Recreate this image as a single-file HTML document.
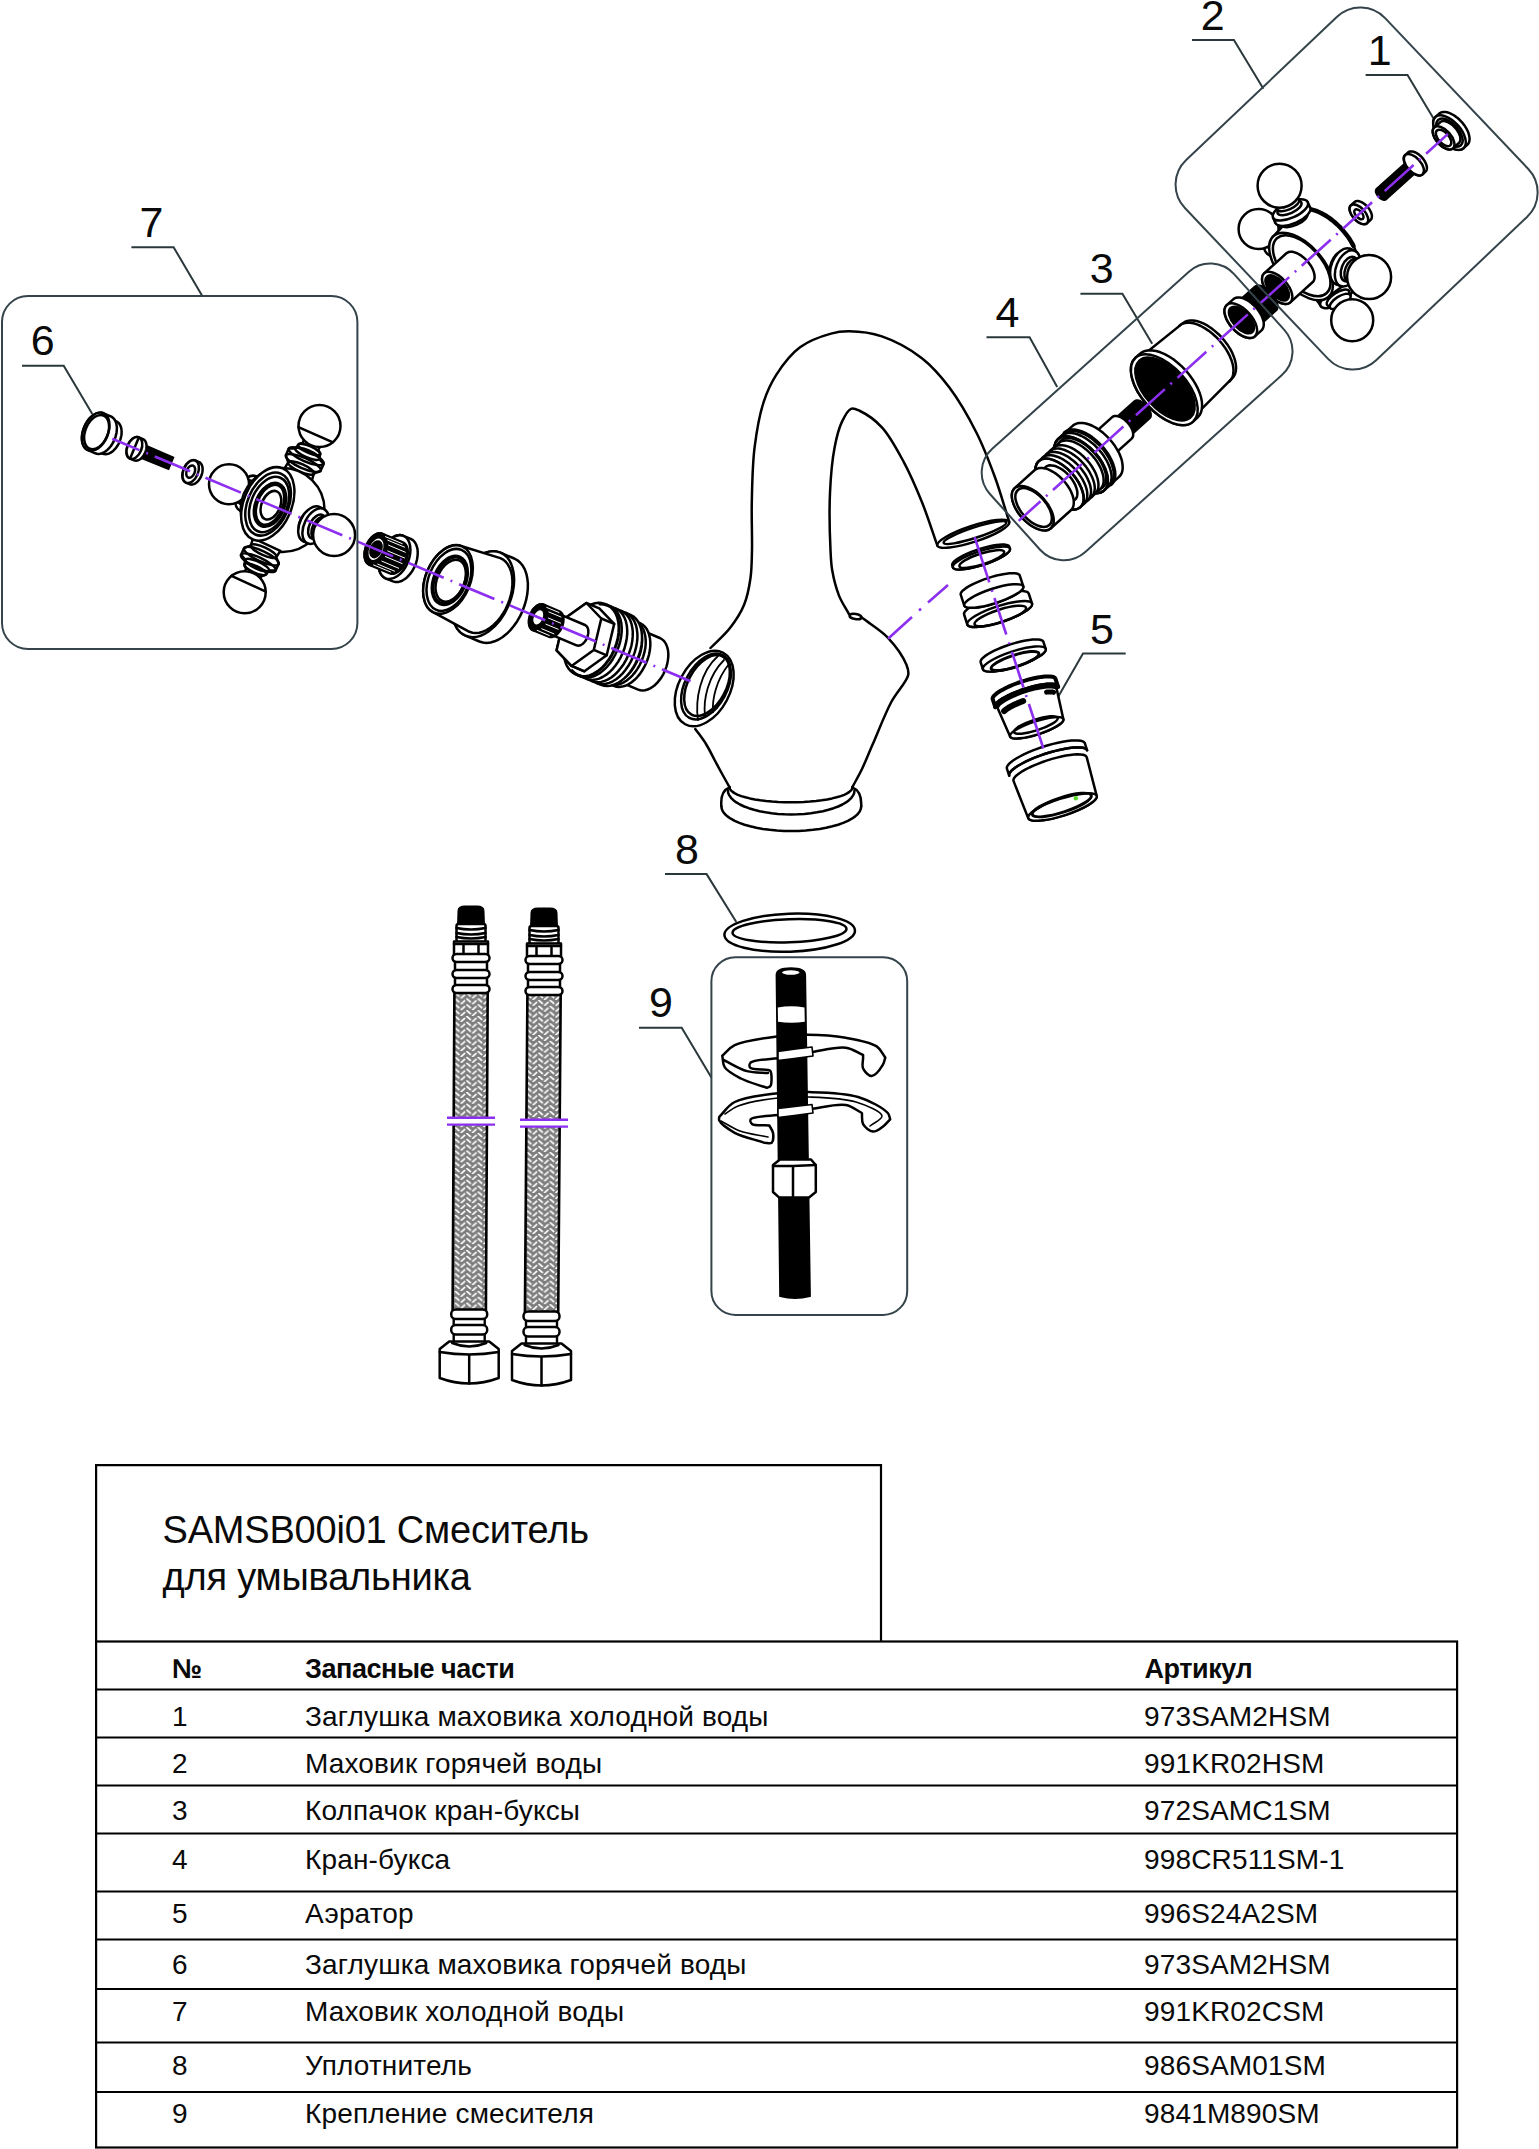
<!DOCTYPE html>
<html><head><meta charset="utf-8">
<style>
html,body{margin:0;padding:0;background:#fff;}
body{width:1539px;height:2149px;overflow:hidden;}
svg{display:block;}
.t{font-family:"Liberation Sans",sans-serif;fill:#0a0a0a;}
.lb{font-family:"Liberation Sans",sans-serif;font-size:43px;fill:#0a0a0a;}
.ld{fill:none;stroke:#2a383c;stroke-width:2;}
.bx{fill:none;stroke:#34444a;stroke-width:2;}
.k{fill:none;stroke:#000;stroke-width:2.5;stroke-linejoin:round;stroke-linecap:round;}
.kw{fill:#fff;stroke:#000;stroke-width:2.5;stroke-linejoin:round;stroke-linecap:round;}
.kb{fill:#000;stroke:#000;stroke-width:2;}
.cl0{fill:none;stroke:#8c2ff0;stroke-width:2.6;}
.cl{fill:none;stroke:#8c2ff0;stroke-width:2.6;stroke-dasharray:46 9 3 9;}
</style></head><body>
<svg width="1539" height="2149" viewBox="0 0 1539 2149">
<!-- ===== TABLE ===== -->
<g id="table" fill="none" stroke="#000" stroke-width="2.2">
<path d="M96.1,1641.5 V1465.1 H881 V1641.5"/>
<rect x="96.1" y="1641.5" width="1361" height="506"/>
<path d="M96,1689.5H1457M96,1737.5H1457M96,1785.5H1457M96,1833.5H1457M96,1891.5H1457M96,1939.5H1457M96,1989H1457M96,2042.5H1457M96,2092H1457"/>
</g>
<g class="t">
<text x="162.5" y="1542.7" font-size="38" letter-spacing="-0.2">SAMSB00i01 Смеситель</text>
<text x="162.5" y="1589.7" font-size="38" letter-spacing="-0.2">для умывальника</text>
<g font-size="27" font-weight="bold" letter-spacing="-0.45">
<text x="172" y="1678.3">№</text><text x="305" y="1678.3">Запасные части</text><text x="1144.5" y="1678.3">Артикул</text>
</g>
<g font-size="28" letter-spacing="0.15">
<text x="172" y="1725.5">1</text><text x="305" y="1725.5">Заглушка маховика холодной воды</text><text x="1144" y="1725.5">973SAM2HSM</text>
<text x="172" y="1773.1">2</text><text x="305" y="1773.1">Маховик горячей воды</text><text x="1144" y="1773.1">991KR02HSM</text>
<text x="172" y="1820">3</text><text x="305" y="1820">Колпачок кран-буксы</text><text x="1144" y="1820">972SAMC1SM</text>
<text x="172" y="1868.7">4</text><text x="305" y="1868.7">Кран-букса</text><text x="1144" y="1868.7">998CR511SM-1</text>
<text x="172" y="1922.6">5</text><text x="305" y="1922.6">Аэратор</text><text x="1144" y="1922.6">996S24A2SM</text>
<text x="172" y="1973.5">6</text><text x="305" y="1973.5">Заглушка маховика горячей воды</text><text x="1144" y="1973.5">973SAM2HSM</text>
<text x="172" y="2020.6">7</text><text x="305" y="2020.6">Маховик холодной воды</text><text x="1144" y="2020.6">991KR02CSM</text>
<text x="172" y="2075.2">8</text><text x="305" y="2075.2">Уплотнитель</text><text x="1144" y="2075.2">986SAM01SM</text>
<text x="172" y="2122.6">9</text><text x="305" y="2122.6">Крепление смесителя</text><text x="1144" y="2122.6">9841M890SM</text>
</g>
</g>
<!-- ===== LABELS & LEADERS ===== -->
<g class="lb">
<text x="139.4" y="237">7</text>
<text x="30.8" y="355">6</text>
<text x="1200.8" y="29.5">2</text>
<text x="1367.7" y="65.3">1</text>
<text x="1089.8" y="282.6">3</text>
<text x="995.5" y="327.3">4</text>
<text x="1090" y="644.4">5</text>
<text x="675.1" y="863.6">8</text>
<text x="648.9" y="1016.6">9</text>
</g>
<g class="ld">
<path d="M131.4,247.2H173.6L202.3,296"/>
<path d="M22,365.8H63.7L92.3,413.9"/>
<path d="M1192,40H1233.9L1263.4,88.7"/>
<path d="M1365.6,75H1407.5L1433.4,118.2"/>
<path d="M1080.4,293.7H1122.4L1152.2,343.8"/>
<path d="M986.5,337.2H1029.6L1057.2,386.9"/>
<path d="M1125.7,653.5H1083L1057.6,697.8"/>
<path d="M665,874.1H706.6L736.3,922"/>
<path d="M639,1027.7H681.7L711.4,1077.5"/>
</g>

<!-- PARTS -->
<defs><pattern id="braid454" x="454.6" y="1191.5" width="11.4" height="5.85" patternUnits="userSpaceOnUse"><rect width="11.4" height="5.85" fill="#7d7d7d"/><path d="M0.8,0.4L4.3,3.4M10.1,2.4L6.6,5.5" stroke="#fff" stroke-width="1.7" stroke-linecap="round" fill="none"/></pattern><pattern id="braid527" x="526.6" y="1193" width="11.4" height="5.85" patternUnits="userSpaceOnUse"><rect width="11.4" height="5.85" fill="#7d7d7d"/><path d="M0.8,0.4L4.3,3.4M10.1,2.4L6.6,5.5" stroke="#fff" stroke-width="1.7" stroke-linecap="round" fill="none"/></pattern></defs><g id="parts">
<path d="M695.3,729C696.9,722 698.2,716.8 700,708C703,693.2 703.4,661.9 710.5,648C715.3,638.6 724.4,635.2 730,628C735.5,620.9 740.6,613.3 744,605C747.5,596.6 749.2,587.1 750.5,578C751.8,568.8 751.7,560.6 752,550C752.3,536.1 751.4,518.5 751.8,502C752.2,484.4 752.4,464.7 754.6,447.4C756.6,431.5 759.4,414.9 763.7,401.9C767.1,391.4 770.8,383.3 776.4,374.6C782.6,365 790.7,354.2 800,347.3C809,340.6 821.9,336.1 831,333.6C837.7,331.7 842.3,331.2 849.2,331.3C858.5,331.4 870.8,332.6 881.9,336.4C894.9,340.8 910.4,349.3 921.9,358.2C932.6,366.5 940.7,376 949.2,387.3C959,400.3 968.8,417.5 976.5,432.8C983.8,447.2 989.2,461.7 994.7,476.5C1000.2,491.4 1004.4,506.8 1009.3,522L937.4,545.6C932.2,531.1 927.6,516.1 921.9,502C916.3,488.2 910.5,474.6 903.7,461.9C897.1,449.7 890.1,436.1 881.9,427.3C875.2,420.1 865.9,413.8 860,411C856.5,409.4 853.7,407.8 851,408.8C847.5,410.1 844.4,416.6 841.9,421.9C838.6,428.8 836.5,437.6 834.6,447.4C832.1,460.3 830.7,476.8 830,492.8C829.2,510.7 829.8,535.8 830.5,550C830.9,558.5 831,563.2 832.2,570.3C833.6,578.3 836,588 839,595.6C841.7,602.4 845.7,608 849,614.2L861.8,617.6C870.5,624.4 880.5,630 888,637.9C895.4,645.8 903.6,657.8 906.5,664.9C908.1,668.9 909,671 908.2,675C906.8,682 896.7,691.8 891.3,702C884.8,714.3 878,732.1 872.7,744.3C868.6,753.6 865.6,761.4 862,769C858.8,775.6 855.5,781.2 852.3,787.3L729.6,787.3C727.3,783.2 725.1,779.3 722.7,775C720.1,770.3 717.3,765.1 714.6,760C711.8,754.8 709.2,749.1 706,744C702.8,738.8 698.9,734 695.3,729Z" fill="#fff" stroke="none"/>
<path d="M710.5,648C717,641.3 724.4,635.2 730,628C735.5,620.9 740.6,613.3 744,605C747.5,596.6 749.2,587.1 750.5,578C751.8,568.8 751.7,560.6 752,550C752.3,536.1 751.4,518.5 751.8,502C752.2,484.4 752.4,464.7 754.6,447.4C756.6,431.5 759.4,414.9 763.7,401.9C767.1,391.4 770.8,383.3 776.4,374.6C782.6,365 790.7,354.2 800,347.3C809,340.6 821.9,336.1 831,333.6C837.7,331.7 842.3,331.2 849.2,331.3C858.5,331.4 870.8,332.6 881.9,336.4C894.9,340.8 910.4,349.3 921.9,358.2C932.6,366.5 940.7,376 949.2,387.3C959,400.3 968.8,417.5 976.5,432.8C983.8,447.2 989.2,461.7 994.7,476.5C1000.2,491.4 1004.4,506.8 1009.3,522" class="k"/>
<path d="M937.4,545.6C932.2,531.1 927.6,516.1 921.9,502C916.3,488.2 910.5,474.6 903.7,461.9C897.1,449.7 890.1,436.1 881.9,427.3C875.2,420.1 865.9,413.8 860,411C856.5,409.4 853.7,407.8 851,408.8C847.5,410.1 844.4,416.6 841.9,421.9C838.6,428.8 836.5,437.6 834.6,447.4C832.1,460.3 830.7,476.8 830,492.8C829.2,510.7 829.8,535.8 830.5,550C830.9,558.5 831,563.2 832.2,570.3C833.6,578.3 836,588 839,595.6C841.7,602.4 845.7,608 849,614.2" class="k"/>
<path d="M861.8,617.6C870.5,624.4 880.5,630 888,637.9C895.4,645.8 903.6,657.8 906.5,664.9C908.1,668.9 909,671 908.2,675C906.8,682 896.7,691.8 891.3,702C884.8,714.3 878,732.1 872.7,744.3C868.6,753.6 865.6,761.4 862,769C858.8,775.6 855.5,781.2 852.3,787.3" class="k"/>
<path d="M729.6,787.3C727.3,783.2 725.1,779.3 722.7,775C720.1,770.3 717.3,765.1 714.6,760C711.8,754.8 709.2,749.1 706,744C702.8,738.8 698.9,734 695.3,729" class="k"/>
<ellipse cx="855.5" cy="616.5" rx="6" ry="2.6" transform="rotate(10 855.5 616.5)" class="kw" />
<ellipse cx="973.3" cy="533.8" rx="37.8" ry="8" transform="rotate(-18.2 973.3 533.8)" class="kw" />
<ellipse cx="975" cy="532.6" rx="33" ry="5.2" transform="rotate(-18.2 975 532.6)" class="k" />
<path d="M729.6,787.3 Q720,791 721.4,806.4 860.8,809 859.7,811.5 857.8,814 855.2,816.4 851.8,818.7 847.9,820.9 843.2,822.9 838.1,824.7 832.4,826.3 826.2,827.7 819.7,828.9 812.9,829.8 805.8,830.5 798.6,830.9 791.3,831 784,830.9 776.8,830.5 769.7,829.8 762.9,828.9 756.3,827.7 750.2,826.3 744.5,824.7 739.4,822.9 734.7,820.9 730.8,818.7 727.4,816.4 724.8,814 722.9,811.5 721.8,809 721.4,806.4 Q862,791 852.3,787.3 Z" fill="#fff" stroke="none"/>
<path d="M861.2,806.4 860.8,809 859.7,811.5 857.8,814 855.2,816.4 851.8,818.7 847.9,820.9 843.2,822.9 838.1,824.7 832.4,826.3 826.2,827.7 819.7,828.9 812.9,829.8 805.8,830.5 798.6,830.9 791.3,831 784,830.9 776.8,830.5 769.7,829.8 762.9,828.9 756.3,827.7 750.2,826.3 744.5,824.7 739.4,822.9 734.7,820.9 730.8,818.7 727.4,816.4 724.8,814 722.9,811.5 721.8,809 721.4,806.4" class="k"/>
<path d="M854.5,790.4 854.2,792.9 853.1,795.4 851.4,797.8 849,800.2 846,802.4 842.4,804.5 838.2,806.5 833.6,808.2 828.4,809.8 822.9,811.2 816.9,812.3 810.8,813.2 804.4,813.9 797.8,814.3 791.2,814.4 784.6,814.3 778,813.9 771.6,813.2 765.5,812.3 759.6,811.2 754,809.8 748.8,808.2 744.2,806.5 740,804.5 736.4,802.4 733.4,800.2 731,797.8 729.3,795.4 728.2,792.9 727.9,790.4" class="k"/>
<path d="M852.4,787.3 852.1,788.9 851.1,790.4 849.4,791.9 847.1,793.4 844.2,794.8 840.7,796.1 836.6,797.3 832.1,798.4 827.1,799.4 821.7,800.3 816,801 810,801.6 803.8,802 797.4,802.2 791,802.3 784.6,802.2 778.2,802 772,801.6 766,801 760.3,800.3 754.9,799.4 749.9,798.4 745.4,797.3 741.3,796.1 737.8,794.8 734.9,793.4 732.6,791.9 730.9,790.4 729.9,788.9 729.6,787.3" class="k"/>
<path d="M729.6,787.3 Q720,791 721.4,806.4 M852.3,787.3 Q862,791 861.2,806.4" class="k"/>
<ellipse cx="704.2" cy="688.5" rx="40.5" ry="25.5" transform="rotate(-62 704.2 688.5)" class="kw" />
<ellipse cx="706" cy="686.5" rx="35.5" ry="21" transform="rotate(-62 706 686.5)" class="k" />
<ellipse cx="707" cy="685.5" rx="33" ry="19" transform="rotate(-62 707 685.5)" class="k" />
<path d="M718,656 C700,672 695,700 698,720 M724,660 C708,676 703,700 705,716 M729,664 C716,680 712,700 713,712" class="k" style="stroke-width:1.8"/>
<path d="M102.8,453.7 104.1,454.1 105.6,454.2 107.1,454.1 108.7,453.6 110.3,452.9 111.8,451.9 113.4,450.7 114.8,449.2 116.2,447.6 117.4,445.8 118.6,443.8 119.5,441.7 120.3,439.6 120.9,437.4 121.4,435.2 121.6,433.1 121.6,431 121.4,429.1 121,427.3 120.4,425.7 119.6,424.2 118.7,423 117.6,422.1 116.3,421.4 110.8,419.1 109.4,418.7 107.9,418.5 106.4,418.7 104.9,419.1 103.3,419.9 101.7,420.8 100.2,422.1 98.7,423.5 97.3,425.2 96.1,427 95,429 94,431 93.2,433.2 92.6,435.3 92.2,437.5 92,439.7 91.9,441.7 92.1,443.7 92.5,445.5 93.1,447.1 93.9,448.5 94.9,449.7 96,450.7 97.2,451.4Z" class="kw"/><ellipse cx="104" cy="435.2" rx="17.5" ry="10.8" transform="rotate(112.8 104 435.2)" class="kw" />
<path d="M95.3,453.3 96.9,453.7 98.6,453.9 100.3,453.7 102.1,453.2 103.9,452.4 105.7,451.3 107.4,449.9 109.1,448.2 110.7,446.3 112.1,444.2 113.4,442 114.5,439.6 115.4,437.2 116.1,434.7 116.6,432.2 116.8,429.8 116.9,427.4 116.6,425.2 116.2,423.1 115.5,421.3 114.6,419.6 113.5,418.3 112.2,417.2 110.8,416.4 103.4,413.3 101.9,412.8 100.2,412.7 98.5,412.9 96.7,413.4 94.9,414.2 93.1,415.3 91.3,416.7 89.7,418.4 88.1,420.2 86.7,422.3 85.4,424.6 84.3,426.9 83.4,429.4 82.7,431.9 82.2,434.4 81.9,436.8 81.9,439.2 82.1,441.4 82.6,443.5 83.3,445.3 84.2,446.9 85.3,448.3 86.5,449.4 88,450.2Z" class="kw"/><ellipse cx="95.7" cy="431.7" rx="20" ry="12.4" transform="rotate(112.8 95.7 431.7)" class="kw" />
<ellipse cx="96.6" cy="432.1" rx="18" ry="11.2" transform="rotate(112.8 96.6 432.1)" class="k" />
<path d="M140.5,443.8L172.6,457.7L168.2,468.4L135.7,455.2Z" class="kb" style="stroke-width:3"/>
<path d="M134.1,460.3 135,460.6 136,460.7 137,460.6 138,460.3 139.1,459.8 140.1,459.2 141.1,458.4 142.1,457.4 143,456.3 143.8,455.1 144.5,453.8 145.2,452.5 145.7,451.1 146.1,449.6 146.4,448.2 146.5,446.8 146.5,445.5 146.4,444.2 146.1,443 145.7,441.9 145.2,441 144.6,440.2 143.9,439.6 143,439.1 138.9,437.4 138,437.1 137,437 136,437.1 135,437.4 134,437.9 132.9,438.5 131.9,439.3 131,440.3 130.1,441.4 129.2,442.6 128.5,443.9 127.9,445.2 127.3,446.6 126.9,448.1 126.7,449.5 126.5,450.9 126.5,452.3 126.6,453.5 126.9,454.7 127.3,455.8 127.8,456.7 128.4,457.5 129.2,458.1 130,458.6Z" class="kw"/><ellipse cx="134.4" cy="448" rx="11.5" ry="7.1" transform="rotate(112.8 134.4 448)" class="kw" />
<path d="M138.3,438.8L130.6,457.2" class="k"/>
<path d="M189.7,484.2 190.7,484.5 191.7,484.6 192.7,484.4 193.8,484.1 194.9,483.7 195.9,483 197,482.1 198,481.1 198.9,480 199.8,478.8 200.6,477.4 201.2,476 201.8,474.5 202.2,473 202.5,471.5 202.6,470.1 202.6,468.7 202.5,467.3 202.2,466.1 201.8,465 201.3,464 200.6,463.2 199.9,462.5 199,462.1 195.3,460.5 194.4,460.2 193.4,460.1 192.3,460.3 191.3,460.6 190.2,461 189.1,461.7 188.1,462.6 187.1,463.6 186.1,464.7 185.3,465.9 184.5,467.3 183.8,468.7 183.3,470.2 182.9,471.7 182.6,473.2 182.4,474.6 182.4,476 182.6,477.4 182.8,478.6 183.2,479.7 183.8,480.7 184.4,481.5 185.2,482.2 186,482.6Z" class="kw"/><ellipse cx="190.7" cy="471.6" rx="12" ry="7.4" transform="rotate(112.8 190.7 471.6)" class="kw" />
<ellipse cx="190.7" cy="471.6" rx="6.5" ry="4" transform="rotate(112.8 190.7 471.6)" class="k" />
<path d="M254.9,480 261.9,484.5 260.8,478.4 256.5,476.4 252.3,481 249.2,480.6 245.6,482.7 247.3,483 239.5,499.2 238.2,498.1 238.8,502.2 241,504.4 240.1,510.6 244.3,512.7 249.7,509.7 241.9,507Z" class="kw"/><ellipse cx="255.8" cy="497.1" rx="14" ry="8.4" transform="rotate(-64.3 255.8 497.1)" class="kw" /><ellipse cx="252.6" cy="495.6" rx="19" ry="11.4" transform="rotate(-64.3 252.6 495.6)" class="kw" /><ellipse cx="248.3" cy="493.5" rx="19" ry="11.4" transform="rotate(-64.3 248.3 493.5)" class="kw" /><ellipse cx="246.7" cy="492.7" rx="13" ry="7.8" transform="rotate(-64.3 246.7 492.7)" class="kw" /><ellipse cx="244" cy="491.4" rx="12" ry="7.2" transform="rotate(-64.3 244 491.4)" class="kw" /><circle cx="229" cy="484.2" r="20" class="kw"/>
<path d="M311.6,481.2 313.9,473.6 320.7,470.6 323.6,463.9 319.2,458.9 320.2,454.3 318.4,449.6 321,445 304.5,437.8 302.9,442.7 298.2,444.7 295.4,448.5 288.8,448.6 285.9,455.3 288.2,462.4 284.1,469.2Z" class="kw"/><ellipse cx="301.1" cy="468" rx="14" ry="3.9" transform="rotate(23.7 301.1 468)" class="k" /><ellipse cx="303.3" cy="463" rx="19" ry="5.3" transform="rotate(23.7 303.3 463)" class="k" /><ellipse cx="306.2" cy="456.2" rx="19" ry="5.3" transform="rotate(23.7 306.2 456.2)" class="k" /><ellipse cx="307.3" cy="453.7" rx="13" ry="3.6" transform="rotate(23.7 307.3 453.7)" class="k" /><ellipse cx="309.2" cy="449.5" rx="12" ry="3.4" transform="rotate(23.7 309.2 449.5)" class="k" /><circle cx="319.5" cy="426" r="21" class="kw"/><path d="M333,442.3L298.4,427.1" class="k"/>
<circle cx="282.6" cy="510" r="42" class="kw"/>
<path d="M253.1,538.2 250.9,545.3 244.1,548.1 241.1,554.7 245.4,559.7 244.4,564.2 246.1,569 243.6,573.3 259.9,580.8 261.5,576.1 266.2,574.3 269,570.6 275.6,570.6 278.6,564 276.4,557 280.3,550.8Z" class="kw"/><ellipse cx="263.6" cy="551.1" rx="14" ry="3.9" transform="rotate(-155.3 263.6 551.1)" class="k" /><ellipse cx="261.4" cy="556.1" rx="19" ry="5.3" transform="rotate(-155.3 261.4 556.1)" class="k" /><ellipse cx="258.3" cy="562.7" rx="19" ry="5.3" transform="rotate(-155.3 258.3 562.7)" class="k" /><ellipse cx="257.2" cy="565.1" rx="13" ry="3.6" transform="rotate(-155.3 257.2 565.1)" class="k" /><ellipse cx="255.3" cy="569.3" rx="12" ry="3.4" transform="rotate(-155.3 255.3 569.3)" class="k" /><circle cx="244.7" cy="592.3" r="21" class="kw"/><path d="M231.5,575.8L265.8,591.6" class="k"/>
<ellipse cx="267.8" cy="503.9" rx="38.5" ry="23.9" transform="rotate(112.8 267.8 503.9)" class="kw" />
<ellipse cx="268.1" cy="504.1" rx="33" ry="20.5" transform="rotate(112.8 268.1 504.1)" class="k" />
<ellipse cx="269.1" cy="504.5" rx="29" ry="18" transform="rotate(112.8 269.1 504.5)" class="k" />
<ellipse cx="270" cy="504.8" rx="22" ry="13.6" transform="rotate(112.8 270 504.8)" class="k" style="stroke-width:4.5"/>
<ellipse cx="270.9" cy="505.2" rx="15" ry="9.3" transform="rotate(112.8 270.9 505.2)" class="k" />
<path d="M310.2,540.1 302.2,535.1 303.1,541.1 307.2,543.1 311.4,538.5 314.4,538.9 318,536.7 315.1,535.8 322.9,519.6 325.5,521.4 324.9,517.3 322.8,515.1 323.9,509 319.8,507 314.5,510 323.3,513.2Z" class="kw"/><ellipse cx="308.4" cy="522.5" rx="14" ry="8.4" transform="rotate(116 308.4 522.5)" class="kw" /><ellipse cx="311.4" cy="524.1" rx="19" ry="11.4" transform="rotate(116 311.4 524.1)" class="kw" /><ellipse cx="315.6" cy="526.1" rx="19" ry="11.4" transform="rotate(116 315.6 526.1)" class="kw" /><ellipse cx="317.1" cy="526.8" rx="13" ry="7.8" transform="rotate(116 317.1 526.8)" class="kw" /><ellipse cx="319.7" cy="528.1" rx="12" ry="7.2" transform="rotate(116 319.7 528.1)" class="kw" /><circle cx="334.1" cy="535.1" r="21" class="kw"/>
<path d="M393,581.4 394.8,581.9 396.7,582.1 398.7,581.9 400.7,581.3 402.8,580.3 404.9,579 406.9,577.4 408.8,575.5 410.6,573.4 412.3,571 413.7,568.4 415,565.7 416.1,562.9 416.9,560 417.4,557.1 417.7,554.3 417.7,551.6 417.5,549.1 416.9,546.7 416.1,544.5 415.1,542.7 413.9,541.1 412.4,539.8 410.8,538.9 403.4,535.8 401.6,535.3 399.7,535.1 397.7,535.4 395.6,535.9 393.5,536.9 391.5,538.2 389.5,539.8 387.5,541.7 385.7,543.8 384.1,546.2 382.6,548.8 381.3,551.5 380.3,554.4 379.5,557.2 378.9,560.1 378.6,562.9 378.6,565.6 378.9,568.2 379.4,570.5 380.2,572.7 381.2,574.5 382.5,576.1 383.9,577.4 385.6,578.3Z" class="kw"/><ellipse cx="394.5" cy="557.1" rx="23" ry="14.3" transform="rotate(112.8 394.5 557.1)" class="kw" />
<path d="M389.8,573.5 391.1,573.9 392.5,574 394,573.9 395.5,573.4 397,572.7 398.6,571.8 400,570.6 401.5,569.2 402.8,567.6 404,565.8 405.1,563.9 406,561.9 406.8,559.8 407.4,557.7 407.8,555.6 408,553.5 408,551.5 407.9,549.6 407.5,547.9 406.9,546.3 406.1,544.9 405.2,543.7 404.1,542.8 402.9,542.2 382.6,533.6 381.3,533.2 379.9,533.1 378.4,533.3 376.9,533.7 375.3,534.4 373.8,535.4 372.3,536.5 370.9,538 369.6,539.6 368.4,541.3 367.3,543.2 366.3,545.2 365.5,547.3 365,549.4 364.5,551.6 364.3,553.6 364.3,555.6 364.5,557.5 364.9,559.3 365.5,560.9 366.2,562.2 367.2,563.4 368.3,564.3 369.5,565Z" class="kb"/><ellipse cx="376" cy="549.3" rx="17" ry="10.5" transform="rotate(112.8 376 549.3)" class="kb" />
<path d="M373.2,564.8L390.8,572.1M377.4,564L394.9,571.3M381.5,561L399,568.4M385,556.4L402.5,563.7M387.4,550.8L404.9,558.1M388.2,545L405.7,552.4M387.4,540L404.9,547.3M385.1,536.5L402.6,543.8" stroke="#fff" stroke-width="1" fill="none"/>
<ellipse cx="376" cy="549.3" rx="12" ry="7.4" transform="rotate(112.8 376 549.3)" class="kw" style="stroke-width:1.5"/>
<ellipse cx="376" cy="549.3" rx="8.5" ry="5.3" transform="rotate(112.8 376 549.3)" class="kb" />
<path d="M479.4,641.5 482.9,642.5 486.7,642.9 490.6,642.5 494.6,641.3 498.7,639.5 502.7,637 506.7,633.8 510.4,630.1 514,625.8 517.2,621.2 520.1,616.1 522.6,610.8 524.6,605.3 526.2,599.7 527.3,594.1 527.8,588.6 527.9,583.3 527.3,578.3 526.3,573.6 524.8,569.4 522.8,565.8 520.3,562.7 517.5,560.3 514.2,558.5 500.4,552.7 496.9,551.6 493.2,551.3 489.2,551.7 485.2,552.9 481.2,554.7 477.1,557.2 473.2,560.4 469.4,564.1 465.9,568.3 462.7,573 459.8,578.1 457.3,583.4 455.2,588.9 453.7,594.5 452.6,600.1 452,605.6 452,610.9 452.5,615.9 453.5,620.5 455.1,624.7 457.1,628.4 459.5,631.5 462.4,633.9 465.6,635.7Z" class="kw"/><ellipse cx="483" cy="594.2" rx="45" ry="27.9" transform="rotate(112.8 483 594.2)" class="kw" />
<path d="M470.2,630 473.1,630.9 476.3,631.2 479.6,630.8 483,629.9 486.4,628.3 489.8,626.2 493.1,623.5 496.3,620.4 499.3,616.8 502,612.8 504.5,608.6 506.6,604.1 508.3,599.4 509.6,594.7 510.6,590 511,585.3 511,580.9 510.6,576.6 509.7,572.7 508.4,569.2 506.7,566.1 504.7,563.5 502.3,561.4 499.6,559.9" class="k"/>
<path d="M469.4,631.8 472.5,632.8 475.8,633.1 479.3,632.7 482.9,631.7 486.5,630.1 490.1,627.8 493.6,625 496.9,621.7 500.1,617.9 502.9,613.8 505.5,609.3 507.7,604.6 509.5,599.7 511,594.7 511.9,589.7 512.4,584.8 512.4,580.1 512,575.7 511.1,571.5 509.7,567.8 507.9,564.6 505.7,561.8 503.2,559.6 500.3,558.1 461.9,546.3 459.1,545.4 456.1,545.2 453,545.5 449.7,546.4 446.5,547.9 443.3,549.9 440.1,552.4 437.1,555.4 434.3,558.8 431.7,562.6 429.4,566.6 427.4,570.9 425.7,575.3 424.5,579.7 423.6,584.2 423.2,588.6 423.2,592.9 423.6,596.9 424.4,600.6 425.6,603.9 427.2,606.9 429.2,609.3 431.5,611.3 434,612.7Z" class="kw"/>
<ellipse cx="448" cy="579.5" rx="36" ry="22.3" transform="rotate(112.8 448 579.5)" class="kw" />
<ellipse cx="448.9" cy="579.9" rx="32.5" ry="20.1" transform="rotate(112.8 448.9 579.9)" class="k" />
<ellipse cx="449.8" cy="580.3" rx="25" ry="15.5" transform="rotate(112.8 449.8 580.3)" class="k" style="stroke-width:4"/>
<ellipse cx="450.7" cy="580.7" rx="22" ry="13.6" transform="rotate(112.8 450.7 580.7)" class="k" />
<path d="M638.2,689.6 640.4,690.3 642.7,690.5 645.1,690.2 647.6,689.5 650.2,688.4 652.7,686.8 655.1,684.9 657.5,682.5 659.6,679.9 661.7,677 663.5,673.8 665,670.5 666.3,667.1 667.3,663.6 667.9,660.1 668.3,656.7 668.3,653.4 668,650.3 667.3,647.4 666.4,644.8 665.1,642.5 663.6,640.6 661.8,639.1 659.8,638 635.9,627.9 633.7,627.3 631.3,627.1 628.9,627.3 626.4,628 623.9,629.2 621.4,630.7 618.9,632.7 616.6,635 614.4,637.7 612.4,640.6 610.6,643.7 609,647 607.7,650.5 606.8,654 606.1,657.4 605.7,660.8 605.7,664.1 606,667.3 606.7,670.2 607.6,672.8 608.9,675 610.4,677 612.2,678.5 614.2,679.6Z" class="kw"/><ellipse cx="625" cy="653.8" rx="28" ry="17.4" transform="rotate(112.8 625 653.8)" class="kw" />
<path d="M613.7,685.9 616.4,686.7 619.2,686.9 622.2,686.6 625.2,685.8 628.3,684.4 631.3,682.5 634.3,680.1 637.1,677.3 639.8,674.1 642.2,670.5 644.4,666.7 646.3,662.7 647.9,658.5 649.1,654.3 649.9,650.1 650.3,645.9 650.3,641.9 649.9,638.1 649.1,634.6 648,631.5 646.5,628.7 644.6,626.4 642.4,624.5 640,623.2 628,618.1 625.4,617.3 622.6,617.1 619.6,617.4 616.6,618.3 613.5,619.7 610.4,621.6 607.5,623.9 604.6,626.8 602,630 599.5,633.5 597.3,637.3 595.4,641.3 593.9,645.5 592.7,649.7 591.9,654 591.5,658.1 591.5,662.1 591.8,665.9 592.6,669.4 593.8,672.6 595.3,675.3 597.1,677.7 599.3,679.5 601.7,680.9Z" class="kw"/><ellipse cx="614.9" cy="649.5" rx="34" ry="21.1" transform="rotate(112.8 614.9 649.5)" class="kw" />
<path d="M605.4,682.4 608.1,683.2 610.9,683.4 613.9,683.1 616.9,682.3 620,680.9 623,679 626,676.6 628.8,673.8 631.5,670.6 633.9,667 636.1,663.2 638,659.2 639.6,655 640.8,650.8 641.6,646.6 642,642.4 642,638.4 641.6,634.6 640.8,631.1 639.7,628 638.2,625.2 636.3,622.9 634.1,621 631.7,619.7" class="k"/>
<path d="M609.1,683.9 611.8,684.7 614.6,685 617.5,684.7 620.6,683.8 623.7,682.4 626.7,680.5 629.7,678.1 632.5,675.3 635.2,672.1 637.6,668.6 639.8,664.8 641.7,660.7 643.2,656.6 644.4,652.4 645.3,648.1 645.7,644 645.7,640 645.3,636.2 644.5,632.7 643.4,629.5 641.8,626.7 640,624.4 637.8,622.6 635.4,621.2" class="k"/>
<path d="M601.1,684.9 604.1,685.8 607.2,686.1 610.5,685.7 613.9,684.8 617.4,683.2 620.8,681.1 624.1,678.4 627.3,675.3 630.3,671.7 633,667.8 635.4,663.5 637.5,659 639.3,654.3 640.6,649.6 641.5,644.9 642,640.3 642,635.8 641.6,631.6 640.7,627.6 639.4,624.1 637.7,621 635.6,618.4 633.2,616.3 630.5,614.8 604.7,604 601.7,603.1 598.6,602.8 595.2,603.2 591.8,604.2 588.4,605.7 585,607.8 581.7,610.5 578.5,613.6 575.5,617.2 572.8,621.2 570.4,625.4 568.3,629.9 566.5,634.6 565.2,639.3 564.3,644 563.8,648.7 563.8,653.2 564.2,657.4 565.1,661.3 566.4,664.8 568.1,667.9 570.2,670.5 572.6,672.6 575.3,674.1Z" class="kw"/>
<path d="M580.8,676.4 583.8,677.3 586.9,677.6 590.3,677.2 593.7,676.3 597.1,674.7 600.5,672.6 603.8,669.9 607,666.8 610,663.2 612.7,659.2 615.1,655 617.2,650.5 619,645.8 620.3,641.1 621.2,636.4 621.7,631.7 621.7,627.3 621.3,623 620.4,619.1 619.1,615.6 617.4,612.5 615.3,609.9 612.9,607.8 610.2,606.3" class="k"/>
<path d="M586.4,678.7 589.3,679.6 592.5,679.9 595.8,679.6 599.2,678.6 602.6,677 606,674.9 609.3,672.3 612.5,669.1 615.5,665.5 618.2,661.6 620.7,657.3 622.8,652.8 624.5,648.2 625.8,643.4 626.7,638.7 627.2,634.1 627.2,629.6 626.8,625.4 625.9,621.4 624.6,617.9 622.9,614.8 620.9,612.2 618.5,610.1 615.7,608.7" class="k"/>
<path d="M591.9,681.1 594.8,681.9 598,682.2 601.3,681.9 604.7,680.9 608.1,679.4 611.6,677.2 614.9,674.6 618,671.4 621,667.8 623.8,663.9 626.2,659.6 628.3,655.1 630,650.5 631.4,645.8 632.3,641 632.7,636.4 632.8,631.9 632.3,627.7 631.5,623.8 630.2,620.2 628.5,617.1 626.4,614.5 624,612.5 621.3,611" class="k"/>
<path d="M596.5,683 599.5,683.9 602.6,684.2 605.9,683.8 609.3,682.9 612.8,681.3 616.2,679.2 619.5,676.5 622.7,673.4 625.6,669.8 628.4,665.8 630.8,661.6 632.9,657.1 634.7,652.4 636,647.7 636.9,643 637.4,638.3 637.4,633.8 636.9,629.6 636.1,625.7 634.8,622.2 633.1,619.1 631,616.5 628.6,614.4 625.9,612.9" class="k"/>
<path d="M572.1,670.7 574.8,673.4 578.1,675.3 581.6,676.3 585.5,676.4 589.5,675.6 593.6,673.9 597.7,671.4 601.7,668.2 605.4,664.2 608.9,659.7 611.9,654.7 614.5,649.3 616.5,643.7 618,638.1 618.8,632.4 619,627 618.5,621.9 617.4,617.2 615.7,613.1 613.4,609.7 610.7,607 607.4,605.2 603.9,604.2 600,604.1" class="k" style="stroke-width:3"/>
<path d="M556.6,650.3 564,618.9 586.4,603 599.3,608.4 614.2,623.9 606.7,655.3 584.4,671.3 571.5,665.9Z" class="kw"/>
<path d="M571.5,665.9 584.4,671.3" class="k"/>
<path d="M593.8,649.9 606.7,655.3" class="k"/>
<path d="M601.3,618.5 614.2,623.9" class="k"/>
<path d="M571.5,665.9 593.8,649.9 601.3,618.5 586.4,603 564,618.9 556.6,650.3Z" class="kw"/>
<path d="M576.5,645.3 577.4,645.6 578.3,645.7 579.2,645.6 580.2,645.3 581.2,644.8 582.2,644.2 583.2,643.5 584.1,642.5 584.9,641.5 585.7,640.4 586.4,639.1 587.1,637.8 587.6,636.5 587.9,635.1 588.2,633.7 588.3,632.4 588.3,631.1 588.2,629.9 588,628.7 587.6,627.7 587.1,626.8 586.5,626.1 585.8,625.5 585,625 557.4,613.4 556.5,613.2 555.6,613.1 554.6,613.2 553.6,613.5 552.6,613.9 551.7,614.5 550.7,615.3 549.8,616.2 548.9,617.3 548.1,618.4 547.4,619.6 546.8,620.9 546.3,622.3 545.9,623.7 545.7,625 545.5,626.4 545.5,627.7 545.6,628.9 545.9,630 546.3,631.1 546.8,631.9 547.4,632.7 548.1,633.3 548.8,633.7Z" class="kw"/><ellipse cx="553.1" cy="623.6" rx="11" ry="6.8" transform="rotate(112.8 553.1 623.6)" class="kw" />
<path d="M548.6,636.9 549.7,637.2 550.9,637.3 552.1,637.2 553.3,636.8 554.6,636.3 555.8,635.5 557.1,634.5 558.2,633.3 559.3,632 560.3,630.6 561.2,629 562,627.3 562.7,625.6 563.2,623.9 563.5,622.1 563.7,620.4 563.7,618.8 563.5,617.2 563.2,615.8 562.7,614.5 562.1,613.3 561.3,612.4 560.4,611.6 559.4,611.1 543.8,604.5 542.7,604.2 541.5,604.1 540.3,604.2 539,604.5 537.8,605.1 536.5,605.9 535.3,606.9 534.1,608 533,609.4 532,610.8 531.1,612.4 530.3,614 529.7,615.8 529.2,617.5 528.9,619.2 528.7,620.9 528.7,622.6 528.9,624.2 529.2,625.6 529.7,626.9 530.3,628 531,629 531.9,629.8 532.9,630.3Z" class="kb"/><ellipse cx="538.3" cy="617.4" rx="14" ry="8.7" transform="rotate(112.8 538.3 617.4)" class="kb" />
<path d="M536.8,630.2L549.7,635.7M541.4,628.6L554.3,634M545.5,624L558.5,629.4M548.1,617.9L561,623.3M548.5,611.8L561.4,617.2M546.4,607.3L559.4,612.7" stroke="#fff" stroke-width="1" fill="none"/>
<ellipse cx="538.3" cy="617.4" rx="8" ry="5" transform="rotate(112.8 538.3 617.4)" class="kw" style="stroke-width:1.2"/>
<path d="M1281.5,223.2 1290,228.3 1289.1,222.4 1285,220.5 1280.9,225.2 1278,224.9 1274.4,227.1 1276.9,227.7 1269.2,244 1267.2,242.4 1267.7,246.6 1269.9,248.7 1268.8,254.8 1272.9,256.7 1278.1,253.7 1268.7,250.4Z" class="kw"/><ellipse cx="1284" cy="241" rx="14" ry="8.4" transform="rotate(-64.8 1284 241)" class="kw" /><ellipse cx="1281" cy="239.6" rx="19" ry="11.4" transform="rotate(-64.8 1281 239.6)" class="kw" /><ellipse cx="1276.9" cy="237.6" rx="19" ry="11.4" transform="rotate(-64.8 1276.9 237.6)" class="kw" /><ellipse cx="1275.4" cy="236.9" rx="13" ry="7.8" transform="rotate(-64.8 1275.4 236.9)" class="kw" /><ellipse cx="1272.9" cy="235.7" rx="12" ry="7.2" transform="rotate(-64.8 1272.9 235.7)" class="kw" /><circle cx="1258.6" cy="229" r="20" class="kw"/>
<path d="M1317.2,293.1 1319,294.1 1317.4,300.8 1320.8,306.2 1327.1,305 1330.1,307.8 1334.8,308.6 1335.6,310.8 1350.8,301.2 1349.1,299.5 1350.4,294.9 1349.1,291.1 1352.9,285.8 1349.4,280.4 1342.7,279.1 1342.5,277Z" class="kw"/><ellipse cx="1330.8" cy="286.6" rx="14" ry="5.9" transform="rotate(147.6 1330.8 286.6)" class="kw" /><ellipse cx="1333.4" cy="290.6" rx="19" ry="8" transform="rotate(147.6 1333.4 290.6)" class="kw" /><ellipse cx="1336.8" cy="296" rx="19" ry="8" transform="rotate(147.6 1336.8 296)" class="kw" /><ellipse cx="1338.1" cy="298" rx="13" ry="5.5" transform="rotate(147.6 1338.1 298)" class="kw" /><ellipse cx="1340.2" cy="301.4" rx="12" ry="5" transform="rotate(147.6 1340.2 301.4)" class="kw" /><circle cx="1352.2" cy="320.2" r="21" class="kw"/>
<path d="M1354.2,277.7 1356.2,275.4 1357.7,272.6 1358.6,269.3 1358.9,265.6 1358.7,261.5 1357.8,257.1 1356.4,252.6 1354.5,247.9 1352,243.1 1349.1,238.4 1345.8,233.9 1342.1,229.5 1338.1,225.3 1333.8,221.5 1329.5,218.1 1325,215.2 1320.5,212.8 1316.2,210.9 1311.9,209.6 1307.9,209 1304.1,208.9 1300.8,209.5 1297.8,210.6 1295.3,212.4 1275,234.7 1273.1,236.9 1271.8,239.5 1270.9,242.6 1270.6,246 1270.8,249.8 1271.6,253.9 1272.9,258.2 1274.7,262.5 1277,266.9 1279.8,271.3 1282.9,275.6 1286.3,279.7 1290,283.5 1294,287.1 1298,290.2 1302.2,293 1306.4,295.2 1310.4,297 1314.4,298.2 1318.2,298.8 1321.6,298.9 1324.8,298.3 1327.6,297.2 1329.9,295.6Z" class="kw"/>
<path d="M1353.5,246 1352,243.1 1350.3,240.3 1348.5,237.5 1346.5,234.8 1344.3,232.1 1342.1,229.5 1339.7,226.9 1337.2,224.5 1334.7,222.3 1332.1,220.1 1329.5,218.1 1326.8,216.3 1324.1,214.7 1321.4,213.2 1318.8,212 1316.2,210.9 1313.6,210.1 1311.1,209.4 1308.7,209 1306.4,208.9 1304.1,208.9 1302.1,209.2 1300.1,209.6 1298.4,210.3" class="k" style="stroke-width:4.5"/>
<path d="M1307.8,212.2 1307.3,213.7 1310.1,207.6 1307.7,202.2 1301.3,202.6 1298.9,199.7 1294.5,198.4 1295,198.1 1278.5,205.4 1279,205.3 1277,209.4 1277.6,213.2 1273,217.6 1275.4,223 1281.8,225 1280.4,224.4Z" class="kw"/><ellipse cx="1294.5" cy="219.3" rx="14" ry="5.9" transform="rotate(-24 1294.5 219.3)" class="kw" /><ellipse cx="1292.8" cy="215.3" rx="19" ry="8" transform="rotate(-24 1292.8 215.3)" class="kw" /><ellipse cx="1290.4" cy="209.9" rx="19" ry="8" transform="rotate(-24 1290.4 209.9)" class="kw" /><ellipse cx="1289.5" cy="207.9" rx="13" ry="5.5" transform="rotate(-24 1289.5 207.9)" class="kw" /><ellipse cx="1288" cy="204.5" rx="12" ry="5" transform="rotate(-24 1288 204.5)" class="kw" /><circle cx="1279.6" cy="185.7" r="22" class="kw"/>
<ellipse cx="1301" cy="266.5" rx="41" ry="21.7" transform="rotate(48 1301 266.5)" class="kw" />
<ellipse cx="1301.7" cy="265.8" rx="37" ry="19.6" transform="rotate(48 1301.7 265.8)" class="k" />
<path d="M1339.1,281.1 1334.1,278 1335.8,284.1 1340.5,286 1344.6,281.1 1347.9,281.4 1351.6,279.1 1349.4,278.8 1356.1,262.1 1358,263.4 1356.9,259.1 1354.3,257 1354.7,250.7 1350,248.8 1344.5,252 1350.4,253.3Z" class="kw"/><ellipse cx="1339.3" cy="265" rx="14" ry="8.4" transform="rotate(111.9 1339.3 265)" class="kw" /><ellipse cx="1342.9" cy="266.4" rx="19" ry="11.4" transform="rotate(111.9 1342.9 266.4)" class="kw" /><ellipse cx="1347.6" cy="268.4" rx="19" ry="11.4" transform="rotate(111.9 1347.6 268.4)" class="kw" /><ellipse cx="1349.4" cy="269.1" rx="13" ry="7.8" transform="rotate(111.9 1349.4 269.1)" class="kw" /><ellipse cx="1352.4" cy="270.3" rx="12" ry="7.2" transform="rotate(111.9 1352.4 270.3)" class="kw" /><circle cx="1369.1" cy="277" r="22" class="kw"/>
<path d="M1312.5,282.3 1313.4,281.3 1314.1,280 1314.5,278.6 1314.6,276.9 1314.5,275.1 1314.1,273.2 1313.5,271.2 1312.7,269.1 1311.6,267 1310.3,264.9 1308.8,262.9 1307.2,260.9 1305.4,259.1 1303.5,257.4 1301.6,255.9 1299.6,254.6 1297.6,253.5 1295.7,252.7 1293.8,252.1 1292,251.8 1290.4,251.8 1288.9,252 1287.5,252.6 1286.4,253.3 1264.1,273.4 1263.3,274.5 1262.6,275.7 1262.2,277.2 1262.1,278.8 1262.2,280.6 1262.5,282.6 1263.2,284.6 1264,286.7 1265.1,288.8 1266.4,290.8 1267.9,292.9 1269.5,294.8 1271.3,296.7 1273.2,298.3 1275.1,299.8 1277.1,301.1 1279.1,302.2 1281,303 1282.9,303.6 1284.7,303.9 1286.3,303.9 1287.8,303.7 1289.1,303.2 1290.3,302.4Z" class="kw"/><ellipse cx="1277.2" cy="287.9" rx="19.5" ry="10.3" transform="rotate(48 1277.2 287.9)" class="kw" />
<ellipse cx="1277.2" cy="287.9" rx="15.5" ry="8.2" transform="rotate(48 1277.2 287.9)" class="kb" />
<path d="M1276,310.5 1276.8,309.7 1277.3,308.6 1277.6,307.4 1277.7,306.1 1277.6,304.6 1277.3,303 1276.8,301.4 1276.1,299.6 1275.2,297.9 1274.2,296.2 1273,294.5 1271.6,292.9 1270.2,291.4 1268.6,290.1 1267,288.8 1265.4,287.8 1263.8,286.9 1262.2,286.2 1260.6,285.7 1259.2,285.5 1257.8,285.5 1256.6,285.7 1255.5,286.1 1254.6,286.7 1236.8,302.8 1236,303.6 1235.5,304.7 1235.2,305.9 1235.1,307.2 1235.2,308.7 1235.5,310.3 1236,312 1236.7,313.7 1237.6,315.4 1238.6,317.1 1239.8,318.8 1241.2,320.4 1242.6,321.9 1244.2,323.3 1245.8,324.5 1247.4,325.6 1249,326.4 1250.6,327.1 1252.1,327.6 1253.6,327.8 1255,327.8 1256.2,327.6 1257.3,327.2 1258.2,326.6Z" class="kb"/>
<path d="M1261.5,330.3 1262.5,329.2 1263.2,327.8 1263.6,326.3 1263.8,324.5 1263.7,322.5 1263.3,320.5 1262.6,318.3 1261.7,316 1260.5,313.8 1259.1,311.5 1257.5,309.3 1255.8,307.2 1253.8,305.3 1251.8,303.5 1249.7,301.8 1247.6,300.4 1245.5,299.3 1243.4,298.4 1241.4,297.8 1239.4,297.5 1237.7,297.4 1236,297.7 1234.6,298.3 1233.4,299.1 1226.7,305.1 1225.8,306.2 1225.1,307.6 1224.6,309.2 1224.5,310.9 1224.6,312.9 1225,315 1225.7,317.1 1226.6,319.4 1227.8,321.6 1229.2,323.9 1230.8,326.1 1232.5,328.2 1234.4,330.1 1236.5,332 1238.5,333.6 1240.7,335 1242.8,336.1 1244.9,337 1246.9,337.6 1248.8,338 1250.6,338 1252.2,337.7 1253.7,337.2 1254.9,336.3Z" class="kw"/><ellipse cx="1240.8" cy="320.7" rx="21" ry="11.1" transform="rotate(48 1240.8 320.7)" class="kw" />
<ellipse cx="1241.5" cy="320" rx="16.5" ry="8.7" transform="rotate(48 1241.5 320)" class="kb" />
<path d="M1370.7,219.8 1371.2,219.2 1371.6,218.4 1371.8,217.5 1371.9,216.5 1371.9,215.4 1371.6,214.2 1371.3,213 1370.7,211.7 1370.1,210.4 1369.3,209.1 1368.4,207.9 1367.3,206.7 1366.3,205.5 1365.1,204.5 1363.9,203.6 1362.7,202.8 1361.5,202.1 1360.3,201.6 1359.1,201.3 1358,201.1 1357,201.1 1356.1,201.2 1355.3,201.5 1354.6,202 1350.9,205.4 1350.3,206 1349.9,206.8 1349.7,207.7 1349.6,208.7 1349.7,209.8 1349.9,211 1350.3,212.2 1350.8,213.5 1351.5,214.8 1352.3,216.1 1353.2,217.3 1354.2,218.5 1355.3,219.7 1356.4,220.7 1357.6,221.6 1358.8,222.4 1360,223.1 1361.2,223.6 1362.4,223.9 1363.5,224.1 1364.5,224.1 1365.4,224 1366.3,223.7 1366.9,223.2Z" class="kw"/><ellipse cx="1358.9" cy="214.3" rx="12" ry="6.4" transform="rotate(48 1358.9 214.3)" class="kw" />
<ellipse cx="1358.9" cy="214.3" rx="6" ry="3.2" transform="rotate(48 1358.9 214.3)" class="k" />
<path d="M1419.3,169.3 1419.6,168.9 1419.9,168.4 1420,167.9 1420.1,167.3 1420,166.7 1419.9,166 1419.7,165.2 1419.3,164.5 1419,163.7 1418.5,163 1418,162.3 1417.4,161.6 1416.7,160.9 1416.1,160.3 1415.4,159.8 1414.7,159.3 1413.9,158.9 1413.3,158.6 1412.6,158.4 1411.9,158.3 1411.3,158.3 1410.8,158.4 1410.3,158.6 1409.9,158.9 1376.5,189 1376.2,189.4 1375.9,189.8 1375.8,190.3 1375.8,190.9 1375.8,191.6 1375.9,192.3 1376.2,193 1376.5,193.7 1376.9,194.5 1377.3,195.2 1377.8,196 1378.4,196.7 1379.1,197.3 1379.7,197.9 1380.4,198.5 1381.1,198.9 1381.9,199.3 1382.6,199.6 1383.2,199.8 1383.9,199.9 1384.5,199.9 1385,199.8 1385.5,199.7 1385.9,199.4Z" class="kb"/>
<path d="M1425.5,171.7 1426.1,171 1426.6,170.2 1426.8,169.2 1426.9,168.1 1426.9,166.9 1426.6,165.6 1426.2,164.3 1425.6,162.9 1424.9,161.5 1424,160.1 1423.1,158.7 1422,157.4 1420.8,156.2 1419.5,155.1 1418.2,154.1 1416.9,153.2 1415.6,152.5 1414.3,152 1413.1,151.6 1411.9,151.4 1410.8,151.4 1409.8,151.5 1408.9,151.9 1408.1,152.4 1405.2,155.1 1404.6,155.8 1404.1,156.6 1403.9,157.6 1403.8,158.7 1403.9,159.9 1404.1,161.2 1404.5,162.5 1405.1,163.9 1405.8,165.3 1406.7,166.7 1407.7,168 1408.8,169.3 1409.9,170.6 1411.2,171.7 1412.5,172.7 1413.8,173.5 1415.1,174.3 1416.4,174.8 1417.7,175.2 1418.9,175.4 1420,175.4 1421,175.2 1421.8,174.9 1422.6,174.4Z" class="kw"/><ellipse cx="1413.9" cy="164.7" rx="13" ry="6.9" transform="rotate(48 1413.9 164.7)" class="kw" />
<path d="M1467.3,144.8 1468.3,143.7 1469,142.4 1469.4,140.8 1469.6,139 1469.4,137.1 1469,135 1468.4,132.8 1467.4,130.6 1466.3,128.3 1464.9,126.1 1463.3,123.9 1461.5,121.8 1459.6,119.8 1457.6,118 1455.5,116.4 1453.4,115 1451.2,113.8 1449.1,112.9 1447.1,112.3 1445.2,112 1443.4,112 1441.8,112.2 1440.4,112.8 1439.2,113.6 1435.5,117 1434.5,118.1 1433.8,119.4 1433.4,121 1433.2,122.8 1433.3,124.7 1433.7,126.8 1434.4,129 1435.3,131.2 1436.5,133.5 1437.9,135.7 1439.5,137.9 1441.3,140 1443.2,142 1445.2,143.8 1447.3,145.4 1449.4,146.8 1451.5,148 1453.6,148.9 1455.6,149.5 1457.6,149.8 1459.4,149.8 1461,149.6 1462.4,149 1463.6,148.2Z" class="kw"/><ellipse cx="1449.5" cy="132.6" rx="21" ry="11.1" transform="rotate(48 1449.5 132.6)" class="kw" />
<ellipse cx="1449.5" cy="132.6" rx="17" ry="9" transform="rotate(48 1449.5 132.6)" class="k" />
<path d="M1458.9,143 1459.5,142.2 1460,141.3 1460.3,140.3 1460.4,139.1 1460.3,137.8 1460.1,136.4 1459.6,135 1459,133.5 1458.2,132 1457.3,130.5 1456.2,129 1455,127.6 1453.8,126.3 1452.4,125.1 1451,124 1449.6,123.1 1448.2,122.3 1446.8,121.7 1445.4,121.3 1444.2,121.1 1443,121.1 1441.9,121.3 1441,121.6 1440.2,122.2 1434.2,127.5 1433.6,128.3 1433.1,129.2 1432.8,130.2 1432.7,131.4 1432.8,132.7 1433.1,134.1 1433.5,135.6 1434.1,137 1434.9,138.6 1435.8,140 1436.9,141.5 1438.1,142.9 1439.3,144.2 1440.7,145.4 1442.1,146.5 1443.5,147.4 1444.9,148.2 1446.3,148.8 1447.7,149.2 1448.9,149.4 1450.1,149.5 1451.2,149.3 1452.2,148.9 1453,148.3Z" class="kw"/><ellipse cx="1443.6" cy="137.9" rx="14" ry="7.4" transform="rotate(48 1443.6 137.9)" class="kw" />
<ellipse cx="1443.6" cy="137.9" rx="10" ry="5.3" transform="rotate(48 1443.6 137.9)" class="k" />
<path d="M1232.1,378.3 1233.8,376.4 1235.1,374 1235.8,371.2 1236.1,368.1 1235.9,364.7 1235.2,361 1234,357.2 1232.4,353.2 1230.3,349.2 1227.9,345.3 1225,341.4 1221.9,337.7 1218.6,334.2 1215,331.1 1211.4,328.2 1207.6,325.7 1203.8,323.7 1200.2,322.1 1196.6,321 1193.2,320.5 1190.1,320.4 1187.2,320.9 1184.7,321.9 1182.6,323.4 1140.5,357.3 1138.7,359.4 1137.3,362 1136.5,365 1136.2,368.4 1136.4,372.1 1137.2,376 1138.5,380.2 1140.2,384.4 1142.5,388.7 1145.1,393 1148.2,397.2 1151.5,401.2 1155.1,404.9 1159,408.4 1163,411.5 1167,414.1 1171.1,416.3 1175.1,418 1178.9,419.2 1182.6,419.8 1186,419.9 1189.1,419.4 1191.8,418.3 1194,416.7Z" class="kw"/>
<path d="M1229.5,381.4 1231.2,379.4 1232.5,377 1233.2,374.2 1233.5,371 1233.3,367.5 1232.6,363.8 1231.4,359.9 1229.7,355.9 1227.6,351.9 1225.2,347.9 1222.3,344 1219.2,340.2 1215.8,336.7 1212.2,333.5 1208.4,330.6 1204.6,328.1 1200.8,326 1197.1,324.4 1193.5,323.3 1190,322.7 1186.9,322.7 1184,323.2 1181.4,324.2 1179.3,325.7" class="k"/>
<path d="M1197.5,417.6 1199.5,415.3 1200.9,412.6 1201.8,409.3 1202.1,405.7 1201.9,401.7 1201.1,397.5 1199.7,393 1197.8,388.4 1195.4,383.8 1192.5,379.2 1189.3,374.7 1185.7,370.4 1181.8,366.4 1177.6,362.7 1173.4,359.3 1169,356.5 1164.7,354.1 1160.4,352.3 1156.2,351 1152.3,350.4 1148.6,350.3 1145.3,350.9 1142.4,352 1140,353.7 1135.5,357.7 1133.5,360 1132.1,362.8 1131.2,366 1130.9,369.6 1131.1,373.6 1132,377.9 1133.3,382.3 1135.2,386.9 1137.6,391.6 1140.5,396.1 1143.7,400.6 1147.4,404.9 1151.3,409 1155.4,412.7 1159.7,416 1164,418.9 1168.4,421.2 1172.7,423.1 1176.8,424.3 1180.8,425 1184.4,425 1187.7,424.5 1190.6,423.3 1193.1,421.6Z" class="kw"/>
<ellipse cx="1164.3" cy="389.7" rx="43" ry="22.8" transform="rotate(48 1164.3 389.7)" class="kw" />
<ellipse cx="1165" cy="389" rx="38.5" ry="20.4" transform="rotate(48 1165 389)" class="kb" />
<path d="M1149.7,418.3 1150.2,417.7 1150.6,417 1150.9,416.1 1150.9,415.1 1150.9,414.1 1150.7,412.9 1150.3,411.7 1149.8,410.5 1149.1,409.3 1148.4,408 1147.5,406.8 1146.5,405.7 1145.5,404.6 1144.4,403.6 1143.2,402.7 1142.1,402 1140.9,401.3 1139.8,400.8 1138.7,400.5 1137.6,400.3 1136.6,400.3 1135.7,400.5 1135,400.8 1134.3,401.2 1114.3,419.3 1113.7,419.9 1113.3,420.6 1113.1,421.5 1113,422.5 1113.1,423.5 1113.3,424.7 1113.7,425.9 1114.2,427.1 1114.8,428.3 1115.6,429.6 1116.5,430.8 1117.4,431.9 1118.5,433 1119.6,434 1120.7,434.9 1121.9,435.6 1123,436.3 1124.2,436.8 1125.3,437.1 1126.4,437.3 1127.3,437.3 1128.2,437.1 1129,436.8 1129.6,436.4Z" class="kb"/>
<path d="M1131.7,438.6 1132.3,437.8 1132.8,436.9 1133.1,435.8 1133.2,434.6 1133.1,433.3 1132.9,431.8 1132.4,430.3 1131.7,428.8 1130.9,427.2 1130,425.7 1128.9,424.1 1127.7,422.7 1126.3,421.3 1125,420.1 1123.5,419 1122,418 1120.6,417.2 1119.1,416.6 1117.7,416.2 1116.4,415.9 1115.2,415.9 1114.1,416.1 1113.1,416.5 1112.2,417.1 1086.2,440.5 1085.6,441.3 1085.1,442.2 1084.8,443.3 1084.7,444.5 1084.8,445.9 1085.1,447.3 1085.5,448.8 1086.2,450.3 1087,451.9 1087.9,453.5 1089,455 1090.2,456.4 1091.6,457.8 1093,459 1094.4,460.1 1095.9,461.1 1097.3,461.9 1098.8,462.5 1100.2,462.9 1101.5,463.2 1102.7,463.2 1103.9,463 1104.8,462.6 1105.7,462Z" class="kw"/><ellipse cx="1096" cy="451.3" rx="14.5" ry="7.7" transform="rotate(48 1096 451.3)" class="kw" />
<path d="M1119,476.9 1120.6,475.1 1121.8,472.9 1122.5,470.3 1122.7,467.3 1122.5,464.2 1121.9,460.7 1120.8,457.2 1119.3,453.5 1117.3,449.8 1115,446.1 1112.4,442.5 1109.5,439 1106.4,435.8 1103.1,432.8 1099.7,430.2 1096.2,427.9 1092.7,426 1089.2,424.5 1085.9,423.5 1082.7,423 1079.8,422.9 1077.2,423.3 1074.8,424.3 1072.9,425.6 1058,439 1056.4,440.9 1055.3,443.1 1054.6,445.7 1054.3,448.6 1054.5,451.8 1055.2,455.2 1056.3,458.8 1057.8,462.4 1059.7,466.2 1062,469.9 1064.6,473.5 1067.5,476.9 1070.6,480.1 1074,483.1 1077.4,485.8 1080.9,488.1 1084.4,490 1087.8,491.4 1091.2,492.4 1094.3,493 1097.2,493 1099.9,492.6 1102.2,491.7 1104.2,490.3Z" class="kw"/><ellipse cx="1081.1" cy="464.7" rx="34.5" ry="18.3" transform="rotate(48 1081.1 464.7)" class="kw" />
<path d="M1107.9,486.9 1109.5,485.1 1110.6,482.9 1111.3,480.3 1111.6,477.4 1111.4,474.2 1110.7,470.8 1109.6,467.2 1108.1,463.5 1106.2,459.8 1103.9,456.1 1101.3,452.5 1098.4,449.1 1095.3,445.8 1092,442.9 1088.5,440.2 1085,437.9 1081.5,436 1078.1,434.5 1074.8,433.5 1071.6,433 1068.7,433 1066,433.4 1063.7,434.3 1061.7,435.7" class="k"/>
<path d="M1110.9,484.3 1112.5,482.4 1113.6,480.2 1114.3,477.6 1114.6,474.7 1114.4,471.5 1113.7,468.1 1112.6,464.5 1111.1,460.8 1109.2,457.1 1106.9,453.4 1104.3,449.8 1101.4,446.4 1098.2,443.2 1094.9,440.2 1091.5,437.5 1088,435.2 1084.5,433.3 1081.1,431.9 1077.7,430.9 1074.6,430.3 1071.6,430.3 1069,430.7 1066.7,431.6 1064.7,433" class="k" style="stroke-width:4"/>
<ellipse cx="1081.1" cy="464.7" rx="34.5" ry="18.3" transform="rotate(48 1081.1 464.7)" class="k" />
<ellipse cx="1081.8" cy="464" rx="31.5" ry="16.7" transform="rotate(48 1081.8 464)" class="k" />
<path d="M1100.4,489 1101.8,487.4 1102.8,485.4 1103.5,483.1 1103.7,480.4 1103.5,477.6 1102.9,474.5 1101.9,471.3 1100.6,468 1098.8,464.6 1096.8,461.3 1094.4,458.1 1091.8,455 1089,452.1 1086,449.4 1082.9,447 1079.8,445 1076.7,443.3 1073.6,441.9 1070.6,441 1067.7,440.6 1065.1,440.5 1062.7,440.9 1060.6,441.7 1058.9,443 1038.8,461.1 1037.4,462.7 1036.3,464.7 1035.7,467 1035.5,469.6 1035.7,472.5 1036.2,475.6 1037.2,478.8 1038.6,482.1 1040.3,485.4 1042.4,488.7 1044.7,492 1047.4,495.1 1050.2,498 1053.1,500.7 1056.2,503.1 1059.4,505.1 1062.5,506.8 1065.6,508.1 1068.6,509 1071.4,509.5 1074.1,509.6 1076.4,509.2 1078.5,508.3 1080.3,507.1Z" class="kw"/><ellipse cx="1059.6" cy="484.1" rx="31" ry="16.4" transform="rotate(48 1059.6 484.1)" class="kw" />
<path d="M1084,503.8 1085.4,502.1 1086.5,500.1 1087.1,497.8 1087.3,495.2 1087.2,492.3 1086.6,489.2 1085.6,486 1084.2,482.7 1082.5,479.4 1080.4,476.1 1078.1,472.8 1075.5,469.7 1072.7,466.8 1069.7,464.1 1066.6,461.8 1063.5,459.7 1060.3,458 1057.2,456.7 1054.2,455.8 1051.4,455.3 1048.8,455.2 1046.4,455.6 1044.3,456.5 1042.5,457.7" class="k"/>
<path d="M1087.7,500.4 1089.2,498.8 1090.2,496.8 1090.8,494.4 1091.1,491.8 1090.9,489 1090.3,485.9 1089.3,482.7 1087.9,479.4 1086.2,476 1084.1,472.7 1081.8,469.5 1079.2,466.4 1076.4,463.5 1073.4,460.8 1070.3,458.4 1067.2,456.3 1064,454.6 1060.9,453.3 1057.9,452.4 1055.1,451.9 1052.5,451.9 1050.1,452.3 1048,453.1 1046.2,454.4" class="k"/>
<path d="M1091.5,497.1 1092.9,495.4 1093.9,493.4 1094.5,491.1 1094.8,488.5 1094.6,485.6 1094,482.5 1093,479.3 1091.6,476 1089.9,472.7 1087.9,469.4 1085.5,466.1 1082.9,463 1080.1,460.1 1077.1,457.4 1074,455.1 1070.9,453 1067.7,451.3 1064.7,450 1061.7,449.1 1058.8,448.6 1056.2,448.6 1053.8,448.9 1051.7,449.8 1049.9,451" class="k"/>
<path d="M1095.2,493.7 1096.6,492.1 1097.6,490.1 1098.3,487.8 1098.5,485.1 1098.3,482.3 1097.7,479.2 1096.7,476 1095.4,472.7 1093.6,469.3 1091.6,466 1089.2,462.8 1086.6,459.7 1083.8,456.8 1080.8,454.1 1077.7,451.7 1074.6,449.6 1071.5,447.9 1068.4,446.6 1065.4,445.7 1062.5,445.2 1059.9,445.2 1057.5,445.6 1055.4,446.4 1053.7,447.7" class="k"/>
<ellipse cx="1059.6" cy="484.1" rx="31" ry="16.4" transform="rotate(48 1059.6 484.1)" class="k" />
<path d="M1075,499.7 1076,498.6 1076.8,497.2 1077.2,495.5 1077.4,493.7 1077.3,491.6 1076.8,489.4 1076.1,487.2 1075.2,484.8 1073.9,482.4 1072.5,480.1 1070.8,477.8 1069,475.6 1067,473.5 1064.9,471.6 1062.7,469.9 1060.4,468.5 1058.2,467.3 1056,466.3 1053.9,465.7 1051.9,465.4 1050,465.3 1048.3,465.6 1046.8,466.2 1045.6,467.1 1036.7,475.1 1035.6,476.3 1034.9,477.7 1034.5,479.3 1034.3,481.2 1034.4,483.2 1034.8,485.4 1035.5,487.7 1036.5,490 1037.7,492.4 1039.2,494.8 1040.9,497 1042.7,499.2 1044.7,501.3 1046.8,503.2 1049,504.9 1051.2,506.4 1053.5,507.6 1055.7,508.5 1057.8,509.2 1059.8,509.5 1061.7,509.5 1063.4,509.2 1064.9,508.7 1066.1,507.8Z" class="kw"/><ellipse cx="1051.4" cy="491.4" rx="22" ry="11.7" transform="rotate(48 1051.4 491.4)" class="kw" />
<path d="M1070.9,510.2 1072.2,508.7 1073.1,507 1073.6,505 1073.8,502.7 1073.7,500.2 1073.2,497.5 1072.3,494.7 1071.1,491.8 1069.6,488.9 1067.8,486 1065.8,483.2 1063.5,480.5 1061,478 1058.5,475.7 1055.8,473.6 1053,471.8 1050.3,470.3 1047.6,469.1 1045,468.4 1042.5,467.9 1040.2,467.9 1038.2,468.3 1036.3,469 1034.8,470 1014.7,488.1 1013.5,489.5 1012.6,491.3 1012,493.3 1011.8,495.6 1012,498.1 1012.5,500.8 1013.4,503.6 1014.6,506.4 1016.1,509.4 1017.9,512.2 1019.9,515.1 1022.2,517.8 1024.6,520.3 1027.2,522.6 1029.9,524.7 1032.6,526.5 1035.4,528 1038.1,529.1 1040.7,529.9 1043.2,530.3 1045.4,530.4 1047.5,530 1049.3,529.3 1050.9,528.2Z" class="kw"/><ellipse cx="1032.8" cy="508.2" rx="27" ry="14.3" transform="rotate(48 1032.8 508.2)" class="kw" />
<ellipse cx="1033.6" cy="507.5" rx="23.5" ry="12.5" transform="rotate(48 1033.6 507.5)" class="k" />
<path d="M1086.7,757.1 1086,756.1 1084.7,755.3 1082.9,754.7 1080.4,754.4 1077.4,754.3 1074,754.5 1070.2,754.9 1066,755.6 1061.5,756.5 1056.9,757.6 1052.1,758.9 1047.3,760.4 1042.5,762 1037.9,763.8 1033.5,765.6 1029.4,767.5 1025.6,769.4 1022.2,771.3 1019.4,773.2 1017,775 1015.2,776.7 1014,778.3 1013.4,779.7 1013.5,780.9 1028.2,818.1 1028.9,819.1 1030.1,819.8 1031.8,820.4 1034.1,820.7 1036.9,820.7 1040.1,820.6 1043.7,820.2 1047.6,819.5 1051.8,818.7 1056.1,817.6 1060.6,816.4 1065.1,815 1069.5,813.5 1073.9,811.9 1078,810.2 1081.9,808.4 1085.4,806.6 1088.5,804.8 1091.2,803.1 1093.4,801.4 1095.1,799.8 1096.2,798.3 1096.8,797 1096.7,795.9Z" class="kw"/><ellipse cx="1062.5" cy="807" rx="36" ry="8.5" transform="rotate(-18 1062.5 807)" class="kw" />
<path d="M1084.9,743.3 1084.1,742.2 1082.8,741.4 1080.8,740.8 1078.1,740.4 1075,740.4 1071.3,740.5 1067.2,741 1062.8,741.7 1058,742.7 1053.1,743.9 1048,745.3 1042.9,746.8 1037.8,748.6 1032.9,750.4 1028.2,752.4 1023.8,754.4 1019.8,756.5 1016.2,758.5 1013.1,760.5 1010.6,762.4 1008.7,764.2 1007.4,765.9 1006.8,767.4 1006.9,768.7 1009.2,775.7 1009.1,774.4 1009.7,772.9 1011,771.2 1012.9,769.4 1015.4,767.5 1018.5,765.5 1022.1,763.5 1026.1,761.4 1030.5,759.4 1035.2,757.4 1040.1,755.6 1045.2,753.8 1050.3,752.3 1055.4,750.9 1060.3,749.7 1065.1,748.7 1069.5,748 1073.6,747.5 1077.3,747.4 1080.4,747.4 1083,747.8 1085,748.4 1086.4,749.2 1087.1,750.3Z" class="kw"/>
<path d="M1087.1,750.3 1086.4,749.2 1085,748.4 1083,747.8 1080.4,747.4 1077.3,747.4 1073.6,747.5 1069.5,748 1065.1,748.7 1060.3,749.7 1055.4,750.9 1050.3,752.3 1045.2,753.8 1040.1,755.6 1035.2,757.4 1030.5,759.4 1026.1,761.4 1022.1,763.5 1018.5,765.5 1015.4,767.5 1012.9,769.4 1011,771.2 1009.7,772.9 1009.1,774.4 1009.2,775.7" class="k"/>
<ellipse cx="1061.8" cy="805" rx="31" ry="7.3" transform="rotate(-18 1061.8 805)" class="k" style="stroke-width:3"/>
<circle cx="1075.8" cy="798.2" r="2.2" fill="#5bd82a"/>
<path d="M1056.8,689.4 1056.3,688.6 1055.2,687.9 1053.7,687.5 1051.7,687.2 1049.3,687.2 1046.6,687.3 1043.5,687.7 1040.1,688.2 1036.5,688.9 1032.8,689.8 1028.9,690.9 1025.1,692.1 1021.2,693.4 1017.5,694.8 1014,696.3 1010.6,697.8 1007.6,699.3 1004.9,700.9 1002.6,702.4 1000.7,703.8 999.2,705.2 998.3,706.5 997.8,707.6 997.8,708.6 1010.1,736.5 1010.6,737.2 1011.5,737.8 1012.9,738.2 1014.7,738.4 1016.8,738.5 1019.3,738.4 1022.1,738 1025.1,737.6 1028.4,736.9 1031.8,736.1 1035.2,735.1 1038.7,734.1 1042.2,732.9 1045.6,731.6 1048.8,730.3 1051.8,728.9 1054.5,727.5 1057,726.1 1059.1,724.7 1060.8,723.4 1062.1,722.2 1062.9,721.1 1063.4,720 1063.3,719.1Z" class="kw"/><ellipse cx="1036.7" cy="727.8" rx="28" ry="6.6" transform="rotate(-18 1036.7 727.8)" class="kw" />
<path d="M1055.5,678.8 1054.9,677.9 1053.8,677.2 1052.1,676.7 1050,676.5 1047.5,676.4 1044.6,676.6 1041.3,676.9 1037.7,677.5 1033.9,678.3 1029.9,679.2 1025.8,680.4 1021.7,681.6 1017.6,683 1013.6,684.5 1009.8,686.1 1006.3,687.7 1003.1,689.4 1000.2,691 997.7,692.6 995.7,694.2 994.2,695.6 993.1,697 992.6,698.2 992.7,699.2 995.3,707.2 995.2,706.2 995.7,705 996.8,703.6 998.3,702.2 1000.3,700.6 1002.8,699 1005.7,697.4 1008.9,695.7 1012.4,694.1 1016.2,692.5 1020.2,691 1024.3,689.6 1028.4,688.4 1032.5,687.2 1036.5,686.3 1040.3,685.5 1043.9,684.9 1047.2,684.6 1050.1,684.4 1052.6,684.5 1054.7,684.7 1056.4,685.2 1057.5,685.9 1058.1,686.8Z" class="kw" style="stroke-width:4"/>
<path d="M1058.1,686.8 1057.5,685.9 1056.4,685.2 1054.7,684.7 1052.6,684.5 1050.1,684.4 1047.2,684.6 1043.9,684.9 1040.3,685.5 1036.5,686.3 1032.5,687.2 1028.4,688.4 1024.3,689.6 1020.2,691 1016.2,692.5 1012.4,694.1 1008.9,695.7 1005.7,697.4 1002.8,699 1000.3,700.6 998.3,702.2 996.8,703.6 995.7,705 995.2,706.2 995.3,707.2" class="k" style="stroke-width:4"/>
<ellipse cx="1035.8" cy="725" rx="23" ry="5.4" transform="rotate(-18 1035.8 725)" class="k" />
<path d="M1023.2,701 1022.2,701.4 1021.1,701.8 1020.1,702.2 1019.1,702.6 1018.1,703 1017.1,703.5 1016.1,703.9 1015.2,704.3 1014.3,704.7 1013.4,705.2 1012.5,705.6 1011.7,706 1010.9,706.5 1010.1,706.9 1009.3,707.3 1008.6,707.8 1007.9,708.2 1007.3,708.6 1006.6,709 1006.1,709.5 1005.5,709.9 1005,710.3 1004.5,710.7 1004.1,711.1" class="k" style="stroke-width:6"/>
<path d="M1053.5,692.3 1053.3,692.2 1053.1,692.2 1052.8,692.1 1052.6,692.1 1052.4,692.1 1052.1,692.1 1051.9,692 1051.6,692 1051.4,692 1051.1,692 1050.8,692 1050.5,691.9 1050.2,691.9 1049.9,691.9 1049.6,691.9 1049.3,691.9 1049,691.9 1048.7,692 1048.4,692 1048,692 1047.7,692 1047.3,692 1047,692 1046.6,692.1" class="k" style="stroke-width:5"/>
<path d="M1043.4,641.8 1042.8,640.9 1041.7,640.2 1040.1,639.8 1038,639.5 1035.5,639.4 1032.5,639.6 1029.2,639.9 1025.6,640.5 1021.8,641.3 1017.8,642.2 1013.7,643.4 1009.6,644.6 1005.6,646 1001.6,647.5 997.8,649.1 994.3,650.7 991,652.4 988.1,654 985.7,655.6 983.7,657.2 982.1,658.6 981.1,660 980.6,661.2 980.6,662.2 982.9,669.2 983.5,670.1 984.6,670.8 986.2,671.3 988.3,671.5 990.9,671.6 993.8,671.4 997.1,671.1 1000.7,670.5 1004.5,669.7 1008.5,668.8 1012.6,667.7 1016.7,666.4 1020.8,665 1024.7,663.5 1028.5,661.9 1032.1,660.3 1035.3,658.6 1038.2,657 1040.7,655.4 1042.7,653.9 1044.2,652.4 1045.2,651.1 1045.7,649.8 1045.7,648.8Z" class="kw"/><ellipse cx="1014.3" cy="659" rx="33" ry="7.8" transform="rotate(-18 1014.3 659)" class="kw" />
<ellipse cx="1015" cy="661" rx="25" ry="5.9" transform="rotate(-18 1015 661)" class="k" style="stroke-width:3"/>
<path d="M1028.7,593.5 1028.1,592.6 1027,591.9 1025.3,591.4 1023.2,591.1 1020.6,591 1017.5,591.2 1014.1,591.6 1010.4,592.2 1006.5,593 1002.4,594 998.2,595.1 993.9,596.4 989.7,597.9 985.7,599.4 981.8,601 978.1,602.7 974.8,604.4 971.8,606.1 969.3,607.7 967.2,609.3 965.6,610.8 964.5,612.2 964,613.5 964.1,614.5 967.3,624.5 967.9,625.4 969.1,626.1 970.7,626.6 972.9,626.9 975.5,627 978.6,626.8 981.9,626.4 985.6,625.9 989.6,625.1 993.7,624.1 997.9,622.9 1002.1,621.6 1006.3,620.2 1010.4,618.6 1014.3,617 1018,615.3 1021.3,613.6 1024.3,611.9 1026.8,610.3 1028.9,608.7 1030.5,607.2 1031.5,605.8 1032,604.6 1032,603.5Z" class="kw"/><ellipse cx="999.7" cy="614" rx="34" ry="8" transform="rotate(-18 999.7 614)" class="kw" />
<ellipse cx="1000.3" cy="616" rx="27" ry="6.3" transform="rotate(-18 1000.3 616)" class="k" />
<path d="M1019.7,575.4 1019.2,574.6 1018.1,574 1016.6,573.5 1014.6,573.2 1012.2,573.2 1009.5,573.3 1006.4,573.7 1003,574.2 999.4,574.9 995.7,575.8 991.8,576.9 988,578.1 984.1,579.4 980.4,580.8 976.9,582.3 973.5,583.8 970.5,585.4 967.8,586.9 965.5,588.4 963.6,589.9 962.1,591.2 961.2,592.5 960.7,593.6 960.7,594.6 964.3,605.6 964.9,606.4 965.9,607.1 967.4,607.5 969.4,607.8 971.8,607.8 974.6,607.7 977.7,607.4 981,606.8 984.6,606.1 988.4,605.2 992.2,604.1 996.1,602.9 999.9,601.6 1003.6,600.2 1007.2,598.7 1010.5,597.2 1013.5,595.7 1016.2,594.1 1018.6,592.6 1020.5,591.2 1021.9,589.8 1022.9,588.5 1023.3,587.4 1023.3,586.4Z" class="kw"/><ellipse cx="993.8" cy="596" rx="31" ry="7.3" transform="rotate(-18 993.8 596)" class="kw" />
<path d="M1009.3,546.7 1008.8,545.9 1007.8,545.3 1006.3,544.9 1004.4,544.6 1002.1,544.6 999.4,544.7 996.4,545 993.2,545.6 989.7,546.3 986.1,547.1 982.4,548.2 978.6,549.3 974.9,550.6 971.3,551.9 967.9,553.4 964.6,554.9 961.7,556.4 959.1,557.8 956.8,559.3 955,560.7 953.6,562 952.7,563.3 952.2,564.3 952.3,565.3 952.9,567.3 953.4,568.1 954.5,568.7 955.9,569.2 957.8,569.4 960.1,569.5 962.8,569.3 965.8,569 969.1,568.5 972.5,567.8 976.2,566.9 979.9,565.9 983.6,564.7 987.3,563.5 990.9,562.1 994.4,560.7 997.6,559.2 1000.5,557.7 1003.2,556.2 1005.4,554.7 1007.2,553.3 1008.6,552 1009.6,550.8 1010,549.7 1010,548.7Z" class="kw"/><ellipse cx="981.4" cy="558" rx="30" ry="7" transform="rotate(-18 981.4 558)" class="kw" />
<ellipse cx="981.8" cy="559" rx="23.5" ry="5.5" transform="rotate(-18 981.8 559)" class="k" />
<ellipse cx="789.7" cy="932.7" rx="65.3" ry="19" transform="rotate(-2 789.7 932.7)" class="kw" />
<ellipse cx="789.5" cy="930.8" rx="57" ry="11.5" transform="rotate(-2 789.5 930.8)" class="k" />
<path d="M722.3,1055.7L722.3,1055.7C726.4,1052.2 728.9,1048 734.7,1045.2C744.2,1040.6 763.7,1038.2 776.7,1036.5C787.7,1035 796.7,1034.6 807.5,1034.7C819.6,1034.8 833.8,1035.7 845.8,1037.8C856.8,1039.7 870,1041.9 876.7,1046.4C881.1,1049.4 882.4,1053.8 885.3,1057.5L885.3,1057.5C884.5,1060 884.4,1062.4 882.8,1064.9C880.6,1068.5 875.2,1075.9 871.7,1076C868.7,1076.1 864.5,1071.7 863.1,1068.6C861.7,1065.5 863.1,1061.2 863.1,1057.5L863.1,1055C857.3,1052.6 852.7,1048.6 845.8,1047.7C836.6,1046.5 823.2,1050.3 812.5,1052C802.5,1053.6 793.5,1055.8 783.5,1057.5C772.9,1059.3 754.2,1059 750.7,1062.5C749.4,1063.9 749.1,1066.2 750,1067.4C751.8,1069.7 762,1069.1 768,1069.9L768,1069.9C768.8,1070.3 769.9,1070.2 770.5,1071.1C771.8,1073.2 772,1083.4 770.5,1085.9C769.7,1087.2 768,1087.2 766.8,1087.8L766.8,1087.8C758.2,1084.7 748.3,1082.3 740.9,1078.5C734.7,1075.3 727.8,1071.8 724.8,1067.4C722.5,1063.9 723.1,1059.6 722.3,1055.7Z" class="kw"/>
<path d="M723.6,1060C731.4,1063.7 739.2,1069 747,1071.1C754,1073 761,1072.4 768,1073" class="k"/>
<path d="M719.3,1116.8L719.3,1116.8C724.4,1111.9 727.6,1105.7 734.7,1102C745,1096.6 764.6,1094.9 777.9,1093.3C789,1092 797.3,1091.8 808.8,1092.1C823.3,1092.5 844.1,1092.7 858.1,1097C869.7,1100.5 883.5,1108.1 887.8,1113C889.7,1115.2 889.4,1117.2 890.2,1119.3L890.2,1119.3C887.7,1121.8 885.6,1124.7 882.8,1126.7C879.9,1128.8 876.2,1131.9 873,1131.6C869.6,1131.3 864.9,1127.4 863.1,1124.2C861.4,1121.1 862.3,1116.7 861.9,1113L861.9,1113C856.5,1110.3 852.3,1106.1 845.8,1105C836.9,1103.4 823.2,1107.2 812.5,1108.8C802.5,1110.3 793.5,1112.6 783.5,1114.3C772.9,1116.1 752.9,1115.9 750.7,1119.3C749.9,1120.6 750.7,1122.9 752,1124C754.5,1126.1 763.5,1124.9 769.3,1125.4L769.3,1125.4C770.5,1127.9 772.5,1130.1 773,1132.8C773.5,1135.8 773.4,1141.2 771.7,1142.7C770.2,1144 766.8,1142.7 764.3,1142.7L764.3,1142.7C754.4,1139.4 742.7,1137.1 734.7,1132.8C728.4,1129.4 720.9,1123.7 719.3,1120.5C718.6,1119.1 719.3,1118 719.3,1116.8Z" class="kw"/>
<path d="M725,1114C729.3,1111.3 732.2,1108.3 738,1106C747.5,1102.3 765.5,1099.4 778,1098C788.9,1096.7 797.6,1096.6 809,1097C823.1,1097.5 843,1098 856,1102C866.3,1105.2 881.5,1111.4 882,1116C882.3,1119.4 874,1122.7 870,1126" class="k" style="stroke-width:1.6"/>
<path d="M721,1121C727.3,1124.3 732.9,1128.4 740,1131C748.3,1134 758.7,1135 768,1137" class="k" style="stroke-width:1.6"/>
<path d="M776.6,975 Q776.6,968.3 790.8,968.3 Q805.1,968.3 805.1,975 L809.9,1296 Q795,1300 780.2,1296 Z" class="kb"/>
<ellipse cx="790.8" cy="972.5" rx="9.5" ry="3" transform="rotate(0 790.8 972.5)" class="kw" style="stroke-width:1.5"/>
<path d="M777.8,1007.5 Q791,1005 804.5,1007.5 L804.8,1021.7 Q791,1024 778,1021.7 Z" fill="#fff" stroke="none"/>
<path d="M778,1051.5 Q795,1049 812,1047 L813,1056 Q795,1058.5 778,1060.5 Z" class="kw" style="stroke-width:1.6"/>
<path d="M778,1108.5 Q795,1106.5 812,1104.5 L813,1113 Q795,1115.5 778,1117.5 Z" class="kw" style="stroke-width:1.6"/>
<path d="M773,1165 L780,1159.5 L811,1159.5 L815.8,1165 L815.8,1192 L809,1197.4 L779,1197.4 L773,1192 Z" class="kw"/>
<path d="M793,1166 V1197 M773,1166 L793,1166 L815.8,1165" class="k"/>
<path d="M454.4,992 L487.7,992 L485.9,1312 L452.6,1312 Z" fill="url(#braid454)" stroke="none"/><path d="M454.4,992 L452.6,1312 M487.7,992 L485.9,1312" fill="none" stroke="#000" stroke-width="2.6"/><path d="M458.5,911 Q458.5,906.5 465,906.5 L477,906.5 Q483.5,906.5 483.5,911 L484,925 L458,925 Z" class="kb"/><rect x="456.5" y="924" width="29" height="18" rx="2" class="kw"/><path d="M456.5,928 Q471,931 485.5,928" class="k"/><path d="M456.5,933 Q471,936 485.5,933" class="k"/><path d="M456.5,937 Q471,940 485.5,937" class="k"/><rect x="454" y="941.5" width="34" height="13" class="kw"/><path d="M463.5,944V953M478.5,944V953M454,944H488" class="k"/><rect x="452.5" y="954" width="37" height="8" rx="4" class="kw"/><rect x="452.5" y="970" width="37" height="8" rx="4" class="kw"/><rect x="452.5" y="985" width="37" height="8" rx="4" class="kw"/><path d="M455,962V970M487,962V970M455,978V985M487,978V985" class="k"/><rect x="449" y="1118" width="47" height="6.5" fill="#fff" stroke="none"/><path d="M447,1117.8H495M447,1124.6H495" stroke="#8c2ff0" stroke-width="2.4" fill="none"/><rect x="453.7" y="1312" width="31" height="34" fill="#fff" stroke="#000" stroke-width="2.4"/><rect x="451.2" y="1309.5" width="36" height="9.5" rx="4.5" class="kw"/><rect x="451.2" y="1325" width="36" height="9.5" rx="4.5" class="kw"/><path d="M439.7,1349 L449.2,1341.5 L489.2,1341.5 L498.7,1349 L498.7,1378 Q469.2,1389 439.7,1378 Z" class="kw"/><path d="M439.7,1352 Q469.2,1357 498.7,1352 M469.2,1355.5 V1383.5" class="k"/><path d="M452.2,1343 Q469.2,1350 486.2,1343" class="k"/>
<path d="M527.4,994 L560.7,994 L558.2,1314 L524.9,1314 Z" fill="url(#braid527)" stroke="none"/><path d="M527.4,994 L524.9,1314 M560.7,994 L558.2,1314" fill="none" stroke="#000" stroke-width="2.6"/><path d="M531.5,913 Q531.5,908.5 538,908.5 L550,908.5 Q556.5,908.5 556.5,913 L557,927 L531,927 Z" class="kb"/><rect x="529.5" y="926" width="29" height="18" rx="2" class="kw"/><path d="M529.5,930 Q544,933 558.5,930" class="k"/><path d="M529.5,935 Q544,938 558.5,935" class="k"/><path d="M529.5,939 Q544,942 558.5,939" class="k"/><rect x="527" y="943.5" width="34" height="13" class="kw"/><path d="M536.5,946V955M551.5,946V955M527,946H561" class="k"/><rect x="525.5" y="956" width="37" height="8" rx="4" class="kw"/><rect x="525.5" y="972" width="37" height="8" rx="4" class="kw"/><rect x="525.5" y="987" width="37" height="8" rx="4" class="kw"/><path d="M528,964V972M560,964V972M528,980V987M560,980V987" class="k"/><rect x="522" y="1120" width="47" height="6.5" fill="#fff" stroke="none"/><path d="M520,1119.8H568M520,1126.6H568" stroke="#8c2ff0" stroke-width="2.4" fill="none"/><rect x="526" y="1314" width="31" height="34" fill="#fff" stroke="#000" stroke-width="2.4"/><rect x="523.5" y="1311.5" width="36" height="9.5" rx="4.5" class="kw"/><rect x="523.5" y="1327" width="36" height="9.5" rx="4.5" class="kw"/><path d="M512,1351 L521.5,1343.5 L561.5,1343.5 L571,1351 L571,1380 Q541.5,1391 512,1380 Z" class="kw"/><path d="M512,1354 Q541.5,1359 571,1354 M541.5,1357.5 V1385.5" class="k"/><path d="M524.5,1345 Q541.5,1352 558.5,1345" class="k"/>
<path d="M112.3,438.7L139.4,450.1M146.2,452.9L148,453.7M154.8,456.5L190.1,471.3M196.9,474.2L198.8,475M205.5,477.8L240.9,492.6M247.6,495.5L249.5,496.2M256.3,499.1L291.6,513.9M298.3,516.7L300.2,517.5M307,520.4L342.3,535.2M349.1,538L350.9,538.8M357.7,541.6L393,556.4M399.8,559.3L401.6,560.1M408.4,562.9L443.7,577.7M450.5,580.6L452.3,581.3M459.1,584.2L494.4,599M501.2,601.8L503.1,602.6M509.8,605.4L545.2,620.3M551.9,623.1L553.8,623.9M560.6,626.7L595.9,641.5M602.7,644.4L604.5,645.1M611.3,648L646.6,662.8M653.4,665.6L655.2,666.4M662,669.3L690.5,681.2" class="cl0"/>
<path d="M1018.7,520.9L1040.5,501.2M1046,496.3L1047.5,494.9M1053,490L1082,463.9M1087.5,458.9L1089,457.6M1094.5,452.6L1123.4,426.5M1128.9,421.5L1130.4,420.2M1135.9,415.3L1164.9,389.1M1170.4,384.2L1171.9,382.8M1177.4,377.9L1206.3,351.8M1211.8,346.8L1213.3,345.5M1218.8,340.5L1247.8,314.4M1253.3,309.5L1254.8,308.1M1260.3,303.2L1289.2,277.1M1294.7,272.1L1296.2,270.8M1301.7,265.8L1330.7,239.7M1336.2,234.8L1337.7,233.4M1343.2,228.5L1372.1,202.3M1377.6,197.4L1379.1,196.1M1384.6,191.1L1413.6,165M1419.1,160L1420.6,158.7M1426.1,153.7L1448,133.9" class="cl0"/>
<path d="M974.6,537.2L989.3,582.4M991.8,590L992.4,591.9M994.4,598L1006.3,634.5M1008.8,642.3L1009.4,644.2M1011.9,651.9L1023.5,687.5M1026,695.1L1026.6,697M1028.9,704L1043.4,748.5" class="cl0"/>
<path d="M888,638.7L912,617M919,610.5L921,608.7M928,602.5L948,585" class="cl0"/>
</g>
<g class="bx">
<rect x="2" y="296" width="355.4" height="353" rx="26"/>
<rect x="711.4" y="957.2" width="195.8" height="357.7" rx="24"/>
<rect x="-164.3" y="-69.5" width="328.6" height="139" rx="32" transform="translate(1137.1,411.9) rotate(-42)"/>
<rect x="-138" y="-138" width="276" height="276" rx="34" transform="translate(1356.6,188.5) rotate(46.5)"/>
</g>
</svg>
</body></html>
